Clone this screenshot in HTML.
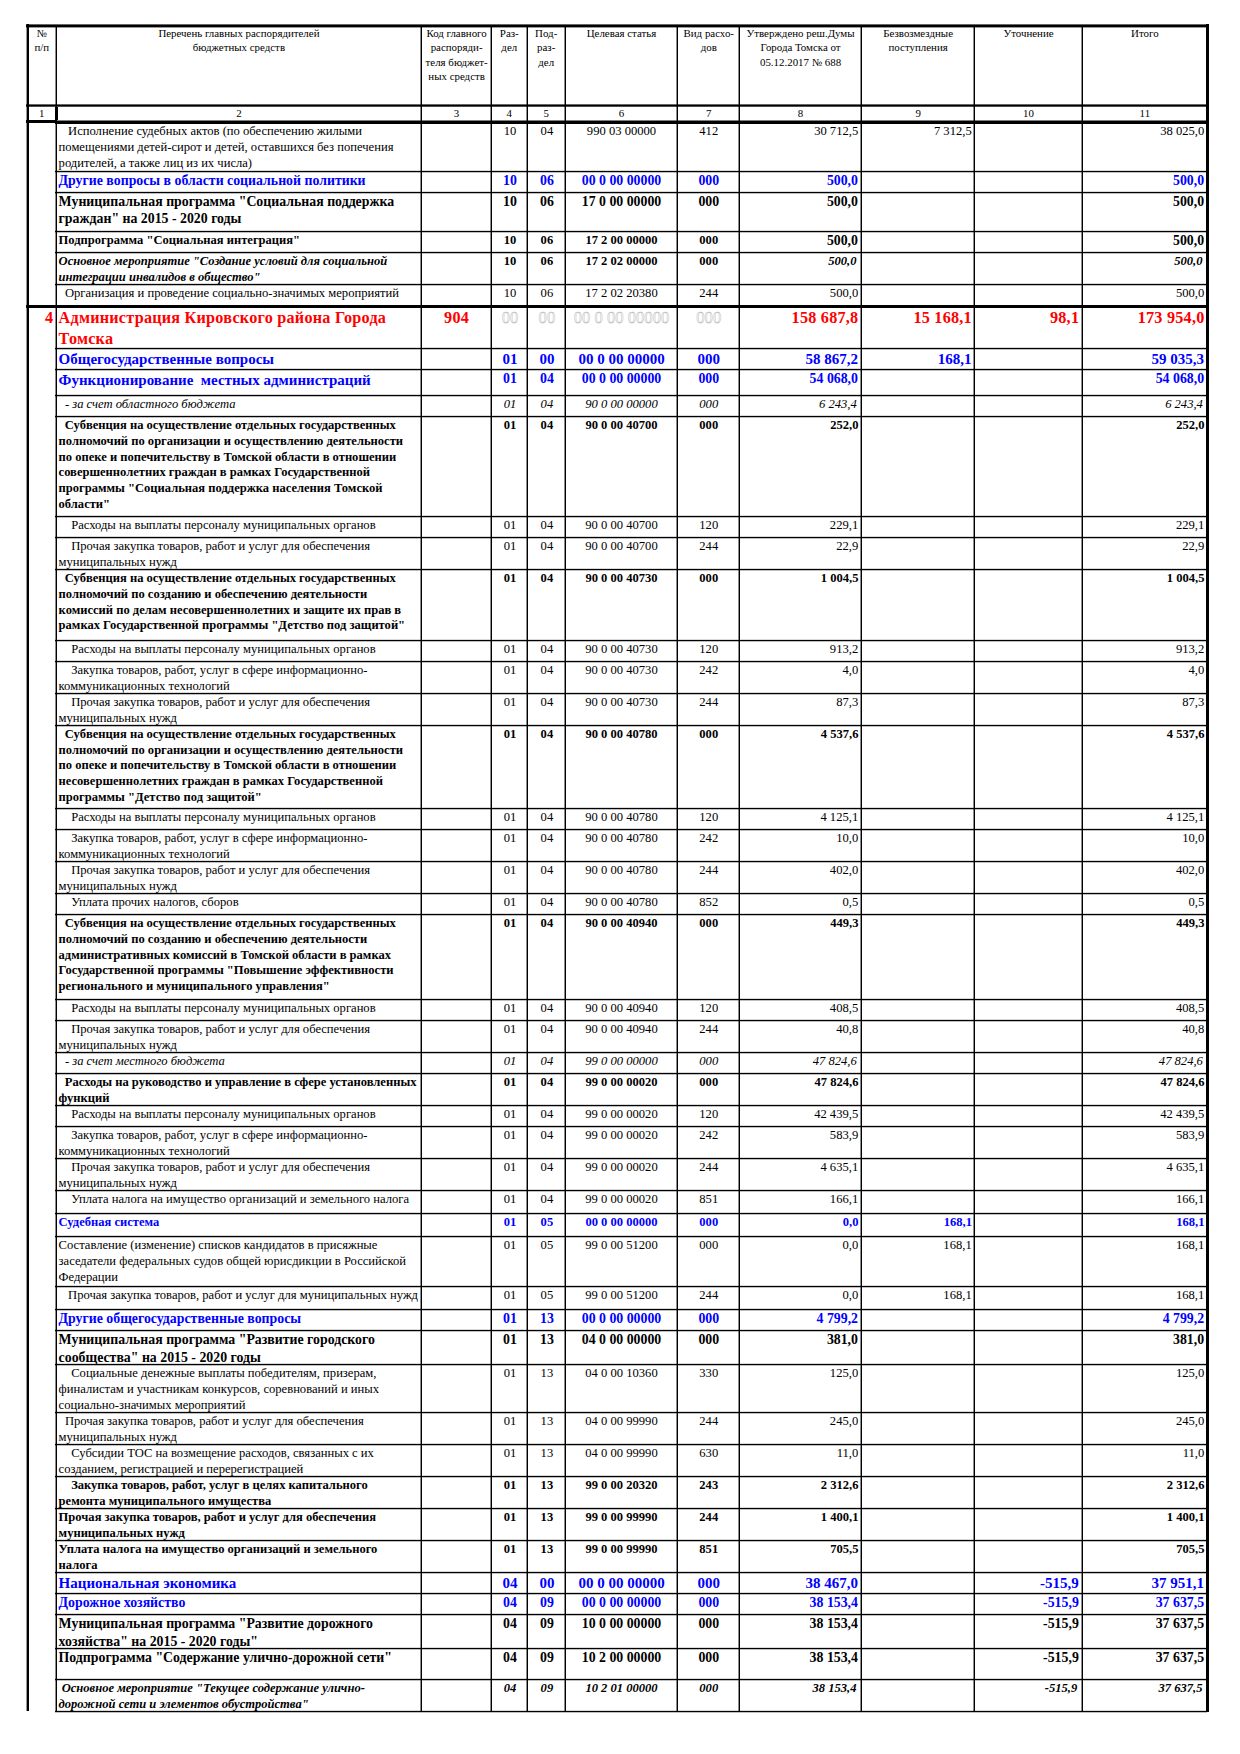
<!DOCTYPE html>
<html lang="ru"><head><meta charset="utf-8"><title>Ведомственная структура расходов</title>
<style>
html,body{margin:0;padding:0;background:#fff;}
body{width:1240px;height:1754px;position:relative;overflow:hidden;font-family:'Liberation Serif', 'Times New Roman', serif;}
.l{position:absolute;}
.t{position:absolute;white-space:pre;}
</style></head><body>
<div class="t" style="top:26.24px;font-size:10.9px;line-height:14.17px;font-weight:normal;font-style:normal;color:#000;left:-158.20px;width:400px;text-align:center;">№</div>
<div class="t" style="top:40.24px;font-size:10.9px;line-height:14.17px;font-weight:normal;font-style:normal;color:#000;left:-158.20px;width:400px;text-align:center;">п/п</div>
<div class="t" style="top:26.14px;font-size:10.9px;line-height:14.17px;font-weight:normal;font-style:normal;color:#000;left:38.95px;width:400px;text-align:center;">Перечень главных распорядителей</div>
<div class="t" style="top:39.84px;font-size:10.9px;line-height:14.17px;font-weight:normal;font-style:normal;color:#000;left:38.95px;width:400px;text-align:center;">бюджетных средств</div>
<div class="t" style="top:26.14px;font-size:10.9px;line-height:14.17px;font-weight:normal;font-style:normal;color:#000;left:256.60px;width:400px;text-align:center;">Код главного</div>
<div class="t" style="top:40.34px;font-size:10.9px;line-height:14.17px;font-weight:normal;font-style:normal;color:#000;left:256.60px;width:400px;text-align:center;">распоряди-</div>
<div class="t" style="top:54.84px;font-size:10.9px;line-height:14.17px;font-weight:normal;font-style:normal;color:#000;left:256.60px;width:400px;text-align:center;">теля бюджет-</div>
<div class="t" style="top:69.14px;font-size:10.9px;line-height:14.17px;font-weight:normal;font-style:normal;color:#000;left:256.60px;width:400px;text-align:center;">ных средств</div>
<div class="t" style="top:26.14px;font-size:10.9px;line-height:14.17px;font-weight:normal;font-style:normal;color:#000;left:309.25px;width:400px;text-align:center;">Раз-</div>
<div class="t" style="top:40.34px;font-size:10.9px;line-height:14.17px;font-weight:normal;font-style:normal;color:#000;left:309.25px;width:400px;text-align:center;">дел</div>
<div class="t" style="top:26.14px;font-size:10.9px;line-height:14.17px;font-weight:normal;font-style:normal;color:#000;left:346.20px;width:400px;text-align:center;">Под-</div>
<div class="t" style="top:40.34px;font-size:10.9px;line-height:14.17px;font-weight:normal;font-style:normal;color:#000;left:346.20px;width:400px;text-align:center;">раз-</div>
<div class="t" style="top:54.84px;font-size:10.9px;line-height:14.17px;font-weight:normal;font-style:normal;color:#000;left:346.20px;width:400px;text-align:center;">дел</div>
<div class="t" style="top:26.14px;font-size:10.9px;line-height:14.17px;font-weight:normal;font-style:normal;color:#000;left:421.50px;width:400px;text-align:center;">Целевая статья</div>
<div class="t" style="top:26.14px;font-size:10.9px;line-height:14.17px;font-weight:normal;font-style:normal;color:#000;left:508.75px;width:400px;text-align:center;">Вид расхо-</div>
<div class="t" style="top:40.34px;font-size:10.9px;line-height:14.17px;font-weight:normal;font-style:normal;color:#000;left:508.75px;width:400px;text-align:center;">дов</div>
<div class="t" style="top:26.14px;font-size:10.9px;line-height:14.17px;font-weight:normal;font-style:normal;color:#000;left:600.55px;width:400px;text-align:center;">Утверждено реш.Думы</div>
<div class="t" style="top:40.34px;font-size:10.9px;line-height:14.17px;font-weight:normal;font-style:normal;color:#000;left:600.55px;width:400px;text-align:center;">Города Томска от</div>
<div class="t" style="top:54.84px;font-size:10.9px;line-height:14.17px;font-weight:normal;font-style:normal;color:#000;left:600.55px;width:400px;text-align:center;">05.12.2017 № 688</div>
<div class="t" style="top:26.14px;font-size:10.9px;line-height:14.17px;font-weight:normal;font-style:normal;color:#000;left:718.15px;width:400px;text-align:center;">Безвозмездные</div>
<div class="t" style="top:40.34px;font-size:10.9px;line-height:14.17px;font-weight:normal;font-style:normal;color:#000;left:718.15px;width:400px;text-align:center;">поступления</div>
<div class="t" style="top:26.14px;font-size:10.9px;line-height:14.17px;font-weight:normal;font-style:normal;color:#000;left:828.55px;width:400px;text-align:center;">Уточнение</div>
<div class="t" style="top:26.14px;font-size:10.9px;line-height:14.17px;font-weight:normal;font-style:normal;color:#000;left:944.85px;width:400px;text-align:center;">Итого</div>
<div class="t" style="top:106.24px;font-size:10.9px;line-height:14.17px;font-weight:normal;font-style:normal;color:#000;left:-158.20px;width:400px;text-align:center;">1</div>
<div class="t" style="top:106.24px;font-size:10.9px;line-height:14.17px;font-weight:normal;font-style:normal;color:#000;left:38.95px;width:400px;text-align:center;">2</div>
<div class="t" style="top:106.24px;font-size:10.9px;line-height:14.17px;font-weight:normal;font-style:normal;color:#000;left:256.60px;width:400px;text-align:center;">3</div>
<div class="t" style="top:106.24px;font-size:10.9px;line-height:14.17px;font-weight:normal;font-style:normal;color:#000;left:309.25px;width:400px;text-align:center;">4</div>
<div class="t" style="top:106.24px;font-size:10.9px;line-height:14.17px;font-weight:normal;font-style:normal;color:#000;left:346.20px;width:400px;text-align:center;">5</div>
<div class="t" style="top:106.24px;font-size:10.9px;line-height:14.17px;font-weight:normal;font-style:normal;color:#000;left:421.50px;width:400px;text-align:center;">6</div>
<div class="t" style="top:106.24px;font-size:10.9px;line-height:14.17px;font-weight:normal;font-style:normal;color:#000;left:508.75px;width:400px;text-align:center;">7</div>
<div class="t" style="top:106.24px;font-size:10.9px;line-height:14.17px;font-weight:normal;font-style:normal;color:#000;left:600.55px;width:400px;text-align:center;">8</div>
<div class="t" style="top:106.24px;font-size:10.9px;line-height:14.17px;font-weight:normal;font-style:normal;color:#000;left:718.15px;width:400px;text-align:center;">9</div>
<div class="t" style="top:106.24px;font-size:10.9px;line-height:14.17px;font-weight:normal;font-style:normal;color:#000;left:828.55px;width:400px;text-align:center;">10</div>
<div class="t" style="top:106.24px;font-size:10.9px;line-height:14.17px;font-weight:normal;font-style:normal;color:#000;left:944.85px;width:400px;text-align:center;">11</div>
<div class="t" style="top:123.36px;font-size:12.6px;line-height:16.38px;font-weight:normal;font-style:normal;color:#000;left:58.60px;">   Исполнение судебных актов (по обеспечению жилыми</div>
<div class="t" style="top:139.36px;font-size:12.6px;line-height:16.38px;font-weight:normal;font-style:normal;color:#000;left:58.60px;">помещениями детей-сирот и детей, оставшихся без попечения</div>
<div class="t" style="top:155.36px;font-size:12.6px;line-height:16.38px;font-weight:normal;font-style:normal;color:#000;left:58.60px;">родителей, а также лиц из их числа)</div>
<div class="t" style="top:123.36px;font-size:12.6px;line-height:16.38px;font-weight:normal;font-style:normal;color:#000;left:309.95px;width:400px;text-align:center;">10</div>
<div class="t" style="top:123.36px;font-size:12.6px;line-height:16.38px;font-weight:normal;font-style:normal;color:#000;left:346.90px;width:400px;text-align:center;">04</div>
<div class="t" style="top:123.36px;font-size:12.6px;line-height:16.38px;font-weight:normal;font-style:normal;color:#000;left:421.50px;width:400px;text-align:center;">990 03 00000</div>
<div class="t" style="top:123.36px;font-size:12.6px;line-height:16.38px;font-weight:normal;font-style:normal;color:#000;left:508.75px;width:400px;text-align:center;">412</div>
<div class="t" style="top:123.36px;font-size:12.6px;line-height:16.38px;font-weight:normal;font-style:normal;color:#000;right:381.80px;">30 712,5</div>
<div class="t" style="top:123.36px;font-size:12.6px;line-height:16.38px;font-weight:normal;font-style:normal;color:#000;right:268.30px;">7 312,5</div>
<div class="t" style="top:123.36px;font-size:12.6px;line-height:16.38px;font-weight:normal;font-style:normal;color:#000;right:35.70px;">38 025,0</div>
<div class="t" style="top:172.14px;font-size:13.83px;line-height:17.98px;font-weight:bold;font-style:normal;color:#00f;left:58.60px;">Другие вопросы в области социальной политики</div>
<div class="t" style="top:172.14px;font-size:13.83px;line-height:17.98px;font-weight:bold;font-style:normal;color:#00f;left:309.95px;width:400px;text-align:center;">10</div>
<div class="t" style="top:172.14px;font-size:13.83px;line-height:17.98px;font-weight:bold;font-style:normal;color:#00f;left:346.90px;width:400px;text-align:center;">06</div>
<div class="t" style="top:172.14px;font-size:13.83px;line-height:17.98px;font-weight:bold;font-style:normal;color:#00f;left:421.50px;width:400px;text-align:center;">00 0 00 00000</div>
<div class="t" style="top:172.14px;font-size:13.83px;line-height:17.98px;font-weight:bold;font-style:normal;color:#00f;left:508.75px;width:400px;text-align:center;">000</div>
<div class="t" style="top:172.14px;font-size:13.83px;line-height:17.98px;font-weight:bold;font-style:normal;color:#00f;right:382.00px;">500,0</div>
<div class="t" style="top:172.14px;font-size:13.83px;line-height:17.98px;font-weight:bold;font-style:normal;color:#00f;right:35.90px;">500,0</div>
<div class="t" style="top:192.64px;font-size:13.83px;line-height:17.98px;font-weight:bold;font-style:normal;color:#000;left:58.60px;">Муниципальная программа &quot;Социальная поддержка</div>
<div class="t" style="top:210.44px;font-size:13.83px;line-height:17.98px;font-weight:bold;font-style:normal;color:#000;left:58.60px;">граждан&quot; на 2015 - 2020 годы</div>
<div class="t" style="top:192.64px;font-size:13.83px;line-height:17.98px;font-weight:bold;font-style:normal;color:#000;left:309.95px;width:400px;text-align:center;">10</div>
<div class="t" style="top:192.64px;font-size:13.83px;line-height:17.98px;font-weight:bold;font-style:normal;color:#000;left:346.90px;width:400px;text-align:center;">06</div>
<div class="t" style="top:192.64px;font-size:13.83px;line-height:17.98px;font-weight:bold;font-style:normal;color:#000;left:421.50px;width:400px;text-align:center;">17 0 00 00000</div>
<div class="t" style="top:192.64px;font-size:13.83px;line-height:17.98px;font-weight:bold;font-style:normal;color:#000;left:508.75px;width:400px;text-align:center;">000</div>
<div class="t" style="top:192.64px;font-size:13.83px;line-height:17.98px;font-weight:bold;font-style:normal;color:#000;right:382.00px;">500,0</div>
<div class="t" style="top:192.64px;font-size:13.83px;line-height:17.98px;font-weight:bold;font-style:normal;color:#000;right:35.90px;">500,0</div>
<div class="t" style="top:232.00px;font-size:12.56px;line-height:16.33px;font-weight:bold;font-style:normal;color:#000;left:58.60px;">Подпрограмма &quot;Социальная интеграция&quot;</div>
<div class="t" style="top:232.00px;font-size:12.56px;line-height:16.33px;font-weight:bold;font-style:normal;color:#000;left:309.95px;width:400px;text-align:center;">10</div>
<div class="t" style="top:232.00px;font-size:12.56px;line-height:16.33px;font-weight:bold;font-style:normal;color:#000;left:346.90px;width:400px;text-align:center;">06</div>
<div class="t" style="top:232.00px;font-size:12.56px;line-height:16.33px;font-weight:bold;font-style:normal;color:#000;left:421.50px;width:400px;text-align:center;">17 2 00 00000</div>
<div class="t" style="top:232.00px;font-size:12.56px;line-height:16.33px;font-weight:bold;font-style:normal;color:#000;left:508.75px;width:400px;text-align:center;">000</div>
<div class="t" style="top:232.04px;font-size:13.83px;line-height:17.98px;font-weight:bold;font-style:normal;color:#000;right:382.00px;">500,0</div>
<div class="t" style="top:232.04px;font-size:13.83px;line-height:17.98px;font-weight:bold;font-style:normal;color:#000;right:35.90px;">500,0</div>
<div class="t" style="top:252.70px;font-size:12.55px;line-height:16.32px;font-weight:bold;font-style:italic;color:#000;left:58.60px;">Основное мероприятие &quot;Создание условий для социальной</div>
<div class="t" style="top:268.50px;font-size:12.55px;line-height:16.32px;font-weight:bold;font-style:italic;color:#000;left:58.60px;">интеграции инвалидов в общество&quot;</div>
<div class="t" style="top:252.70px;font-size:12.56px;line-height:16.33px;font-weight:bold;font-style:normal;color:#000;left:309.95px;width:400px;text-align:center;">10</div>
<div class="t" style="top:252.70px;font-size:12.56px;line-height:16.33px;font-weight:bold;font-style:normal;color:#000;left:346.90px;width:400px;text-align:center;">06</div>
<div class="t" style="top:252.70px;font-size:12.56px;line-height:16.33px;font-weight:bold;font-style:normal;color:#000;left:421.50px;width:400px;text-align:center;">17 2 02 00000</div>
<div class="t" style="top:252.70px;font-size:12.56px;line-height:16.33px;font-weight:bold;font-style:normal;color:#000;left:508.75px;width:400px;text-align:center;">000</div>
<div class="t" style="top:252.70px;font-size:12.55px;line-height:16.32px;font-weight:bold;font-style:italic;color:#000;right:383.60px;">500,0</div>
<div class="t" style="top:252.70px;font-size:12.55px;line-height:16.32px;font-weight:bold;font-style:italic;color:#000;right:37.50px;">500,0</div>
<div class="t" style="top:284.86px;font-size:12.6px;line-height:16.38px;font-weight:normal;font-style:normal;color:#000;left:58.60px;">  Организация и проведение социально-значимых мероприятий</div>
<div class="t" style="top:284.86px;font-size:12.6px;line-height:16.38px;font-weight:normal;font-style:normal;color:#000;left:309.95px;width:400px;text-align:center;">10</div>
<div class="t" style="top:284.86px;font-size:12.6px;line-height:16.38px;font-weight:normal;font-style:normal;color:#000;left:346.90px;width:400px;text-align:center;">06</div>
<div class="t" style="top:284.86px;font-size:12.6px;line-height:16.38px;font-weight:normal;font-style:normal;color:#000;left:421.50px;width:400px;text-align:center;">17 2 02 20380</div>
<div class="t" style="top:284.86px;font-size:12.6px;line-height:16.38px;font-weight:normal;font-style:normal;color:#000;left:508.75px;width:400px;text-align:center;">244</div>
<div class="t" style="top:284.86px;font-size:12.6px;line-height:16.38px;font-weight:normal;font-style:normal;color:#000;right:381.80px;">500,0</div>
<div class="t" style="top:284.86px;font-size:12.6px;line-height:16.38px;font-weight:normal;font-style:normal;color:#000;right:35.70px;">500,0</div>
<div class="t" style="top:308.00px;font-size:16.2px;line-height:21.06px;font-weight:bold;font-style:normal;color:#f00;letter-spacing:0.23px;left:58.60px;">Администрация Кировского района Города</div>
<div class="t" style="top:328.90px;font-size:16.2px;line-height:21.06px;font-weight:bold;font-style:normal;color:#f00;letter-spacing:0.23px;left:58.60px;">Томска</div>
<div class="t" style="top:308.00px;font-size:16.2px;line-height:21.06px;font-weight:bold;font-style:normal;color:#f00;letter-spacing:0.23px;left:256.60px;width:400px;text-align:center;">904</div>
<div class="t" style="top:306.57px;font-size:16.64px;line-height:21.63px;font-weight:normal;font-style:normal;color:transparent;-webkit-text-stroke:0.4px #a8a8a8;left:309.95px;width:400px;text-align:center;">00</div>
<div class="t" style="top:306.57px;font-size:16.64px;line-height:21.63px;font-weight:normal;font-style:normal;color:transparent;-webkit-text-stroke:0.4px #a8a8a8;left:346.90px;width:400px;text-align:center;">00</div>
<div class="t" style="top:306.57px;font-size:16.64px;line-height:21.63px;font-weight:normal;font-style:normal;color:transparent;-webkit-text-stroke:0.4px #a8a8a8;left:421.50px;width:400px;text-align:center;">00 0 00 00000</div>
<div class="t" style="top:306.57px;font-size:16.64px;line-height:21.63px;font-weight:normal;font-style:normal;color:transparent;-webkit-text-stroke:0.4px #a8a8a8;left:508.75px;width:400px;text-align:center;">000</div>
<div class="t" style="top:308.00px;font-size:16.2px;line-height:21.06px;font-weight:bold;font-style:normal;color:#f00;letter-spacing:0.23px;right:381.60px;">158 687,8</div>
<div class="t" style="top:308.00px;font-size:16.2px;line-height:21.06px;font-weight:bold;font-style:normal;color:#f00;letter-spacing:0.23px;right:268.10px;">15 168,1</div>
<div class="t" style="top:308.00px;font-size:16.2px;line-height:21.06px;font-weight:bold;font-style:normal;color:#f00;letter-spacing:0.23px;right:160.80px;">98,1</div>
<div class="t" style="top:308.00px;font-size:16.2px;line-height:21.06px;font-weight:bold;font-style:normal;color:#f00;letter-spacing:0.23px;right:35.50px;">173 954,0</div>
<div class="t" style="top:349.69px;font-size:15.0px;line-height:19.5px;font-weight:bold;font-style:normal;color:#00f;left:58.60px;">Общегосударственные вопросы</div>
<div class="t" style="top:349.69px;font-size:15.0px;line-height:19.5px;font-weight:bold;font-style:normal;color:#00f;left:309.95px;width:400px;text-align:center;">01</div>
<div class="t" style="top:349.69px;font-size:15.0px;line-height:19.5px;font-weight:bold;font-style:normal;color:#00f;left:346.90px;width:400px;text-align:center;">00</div>
<div class="t" style="top:349.69px;font-size:15.0px;line-height:19.5px;font-weight:bold;font-style:normal;color:#00f;left:421.50px;width:400px;text-align:center;">00 0 00 00000</div>
<div class="t" style="top:349.69px;font-size:15.0px;line-height:19.5px;font-weight:bold;font-style:normal;color:#00f;left:508.75px;width:400px;text-align:center;">000</div>
<div class="t" style="top:349.69px;font-size:15.0px;line-height:19.5px;font-weight:bold;font-style:normal;color:#00f;right:382.00px;">58 867,2</div>
<div class="t" style="top:349.69px;font-size:15.0px;line-height:19.5px;font-weight:bold;font-style:normal;color:#00f;right:268.50px;">168,1</div>
<div class="t" style="top:349.69px;font-size:15.0px;line-height:19.5px;font-weight:bold;font-style:normal;color:#00f;right:35.90px;">59 035,3</div>
<div class="t" style="top:370.69px;font-size:15.0px;line-height:19.5px;font-weight:bold;font-style:normal;color:#00f;left:58.60px;">Функционирование  местных администраций</div>
<div class="t" style="top:370.04px;font-size:13.83px;line-height:17.98px;font-weight:bold;font-style:normal;color:#00f;left:309.95px;width:400px;text-align:center;">01</div>
<div class="t" style="top:370.04px;font-size:13.83px;line-height:17.98px;font-weight:bold;font-style:normal;color:#00f;left:346.90px;width:400px;text-align:center;">04</div>
<div class="t" style="top:370.04px;font-size:13.83px;line-height:17.98px;font-weight:bold;font-style:normal;color:#00f;left:421.50px;width:400px;text-align:center;">00 0 00 00000</div>
<div class="t" style="top:370.04px;font-size:13.83px;line-height:17.98px;font-weight:bold;font-style:normal;color:#00f;left:508.75px;width:400px;text-align:center;">000</div>
<div class="t" style="top:370.04px;font-size:13.83px;line-height:17.98px;font-weight:bold;font-style:normal;color:#00f;right:382.00px;">54 068,0</div>
<div class="t" style="top:370.04px;font-size:13.83px;line-height:17.98px;font-weight:bold;font-style:normal;color:#00f;right:35.90px;">54 068,0</div>
<div class="t" style="top:395.86px;font-size:12.6px;line-height:16.38px;font-weight:normal;font-style:italic;color:#000;left:58.60px;">  - за счет областного бюджета</div>
<div class="t" style="top:395.86px;font-size:12.6px;line-height:16.38px;font-weight:normal;font-style:italic;color:#000;left:309.95px;width:400px;text-align:center;">01</div>
<div class="t" style="top:395.86px;font-size:12.6px;line-height:16.38px;font-weight:normal;font-style:italic;color:#000;left:346.90px;width:400px;text-align:center;">04</div>
<div class="t" style="top:395.86px;font-size:12.6px;line-height:16.38px;font-weight:normal;font-style:italic;color:#000;left:421.50px;width:400px;text-align:center;">90 0 00 00000</div>
<div class="t" style="top:395.86px;font-size:12.6px;line-height:16.38px;font-weight:normal;font-style:italic;color:#000;left:508.75px;width:400px;text-align:center;">000</div>
<div class="t" style="top:395.86px;font-size:12.6px;line-height:16.38px;font-weight:normal;font-style:italic;color:#000;right:383.20px;">6 243,4</div>
<div class="t" style="top:395.86px;font-size:12.6px;line-height:16.38px;font-weight:normal;font-style:italic;color:#000;right:37.10px;">6 243,4</div>
<div class="t" style="top:416.90px;font-size:12.56px;line-height:16.33px;font-weight:bold;font-style:normal;color:#000;left:58.60px;">  Субвенция на осуществление отдельных государственных</div>
<div class="t" style="top:432.70px;font-size:12.56px;line-height:16.33px;font-weight:bold;font-style:normal;color:#000;left:58.60px;">полномочий по организации и осуществлению деятельности</div>
<div class="t" style="top:448.50px;font-size:12.56px;line-height:16.33px;font-weight:bold;font-style:normal;color:#000;left:58.60px;">по опеке и попечительству в Томской области в отношении</div>
<div class="t" style="top:464.30px;font-size:12.56px;line-height:16.33px;font-weight:bold;font-style:normal;color:#000;left:58.60px;">совершеннолетних граждан в рамках Государственной</div>
<div class="t" style="top:480.10px;font-size:12.56px;line-height:16.33px;font-weight:bold;font-style:normal;color:#000;left:58.60px;">программы &quot;Социальная поддержка населения Томской</div>
<div class="t" style="top:495.90px;font-size:12.56px;line-height:16.33px;font-weight:bold;font-style:normal;color:#000;left:58.60px;">области&quot;</div>
<div class="t" style="top:416.90px;font-size:12.56px;line-height:16.33px;font-weight:bold;font-style:normal;color:#000;left:309.95px;width:400px;text-align:center;">01</div>
<div class="t" style="top:416.90px;font-size:12.56px;line-height:16.33px;font-weight:bold;font-style:normal;color:#000;left:346.90px;width:400px;text-align:center;">04</div>
<div class="t" style="top:416.90px;font-size:12.56px;line-height:16.33px;font-weight:bold;font-style:normal;color:#000;left:421.50px;width:400px;text-align:center;">90 0 00 40700</div>
<div class="t" style="top:416.90px;font-size:12.56px;line-height:16.33px;font-weight:bold;font-style:normal;color:#000;left:508.75px;width:400px;text-align:center;">000</div>
<div class="t" style="top:416.90px;font-size:12.56px;line-height:16.33px;font-weight:bold;font-style:normal;color:#000;right:381.60px;">252,0</div>
<div class="t" style="top:416.90px;font-size:12.56px;line-height:16.33px;font-weight:bold;font-style:normal;color:#000;right:35.50px;">252,0</div>
<div class="t" style="top:517.06px;font-size:12.6px;line-height:16.38px;font-weight:normal;font-style:normal;color:#000;left:58.60px;">    Расходы на выплаты персоналу муниципальных органов</div>
<div class="t" style="top:517.06px;font-size:12.6px;line-height:16.38px;font-weight:normal;font-style:normal;color:#000;left:309.95px;width:400px;text-align:center;">01</div>
<div class="t" style="top:517.06px;font-size:12.6px;line-height:16.38px;font-weight:normal;font-style:normal;color:#000;left:346.90px;width:400px;text-align:center;">04</div>
<div class="t" style="top:517.06px;font-size:12.6px;line-height:16.38px;font-weight:normal;font-style:normal;color:#000;left:421.50px;width:400px;text-align:center;">90 0 00 40700</div>
<div class="t" style="top:517.06px;font-size:12.6px;line-height:16.38px;font-weight:normal;font-style:normal;color:#000;left:508.75px;width:400px;text-align:center;">120</div>
<div class="t" style="top:517.06px;font-size:12.6px;line-height:16.38px;font-weight:normal;font-style:normal;color:#000;right:381.80px;">229,1</div>
<div class="t" style="top:517.06px;font-size:12.6px;line-height:16.38px;font-weight:normal;font-style:normal;color:#000;right:35.70px;">229,1</div>
<div class="t" style="top:538.16px;font-size:12.6px;line-height:16.38px;font-weight:normal;font-style:normal;color:#000;left:58.60px;">    Прочая закупка товаров, работ и услуг для обеспечения</div>
<div class="t" style="top:554.16px;font-size:12.6px;line-height:16.38px;font-weight:normal;font-style:normal;color:#000;left:58.60px;">муниципальных нужд</div>
<div class="t" style="top:538.16px;font-size:12.6px;line-height:16.38px;font-weight:normal;font-style:normal;color:#000;left:309.95px;width:400px;text-align:center;">01</div>
<div class="t" style="top:538.16px;font-size:12.6px;line-height:16.38px;font-weight:normal;font-style:normal;color:#000;left:346.90px;width:400px;text-align:center;">04</div>
<div class="t" style="top:538.16px;font-size:12.6px;line-height:16.38px;font-weight:normal;font-style:normal;color:#000;left:421.50px;width:400px;text-align:center;">90 0 00 40700</div>
<div class="t" style="top:538.16px;font-size:12.6px;line-height:16.38px;font-weight:normal;font-style:normal;color:#000;left:508.75px;width:400px;text-align:center;">244</div>
<div class="t" style="top:538.16px;font-size:12.6px;line-height:16.38px;font-weight:normal;font-style:normal;color:#000;right:381.80px;">22,9</div>
<div class="t" style="top:538.16px;font-size:12.6px;line-height:16.38px;font-weight:normal;font-style:normal;color:#000;right:35.70px;">22,9</div>
<div class="t" style="top:570.00px;font-size:12.56px;line-height:16.33px;font-weight:bold;font-style:normal;color:#000;left:58.60px;">  Субвенция на осуществление отдельных государственных</div>
<div class="t" style="top:585.80px;font-size:12.56px;line-height:16.33px;font-weight:bold;font-style:normal;color:#000;left:58.60px;">полномочий по созданию и обеспечению деятельности</div>
<div class="t" style="top:601.60px;font-size:12.56px;line-height:16.33px;font-weight:bold;font-style:normal;color:#000;left:58.60px;">комиссий по делам несовершеннолетних и защите их прав в</div>
<div class="t" style="top:617.40px;font-size:12.56px;line-height:16.33px;font-weight:bold;font-style:normal;color:#000;left:58.60px;">рамках Государственной программы &quot;Детство под защитой&quot;</div>
<div class="t" style="top:570.00px;font-size:12.56px;line-height:16.33px;font-weight:bold;font-style:normal;color:#000;left:309.95px;width:400px;text-align:center;">01</div>
<div class="t" style="top:570.00px;font-size:12.56px;line-height:16.33px;font-weight:bold;font-style:normal;color:#000;left:346.90px;width:400px;text-align:center;">04</div>
<div class="t" style="top:570.00px;font-size:12.56px;line-height:16.33px;font-weight:bold;font-style:normal;color:#000;left:421.50px;width:400px;text-align:center;">90 0 00 40730</div>
<div class="t" style="top:570.00px;font-size:12.56px;line-height:16.33px;font-weight:bold;font-style:normal;color:#000;left:508.75px;width:400px;text-align:center;">000</div>
<div class="t" style="top:570.00px;font-size:12.56px;line-height:16.33px;font-weight:bold;font-style:normal;color:#000;right:381.60px;">1 004,5</div>
<div class="t" style="top:570.00px;font-size:12.56px;line-height:16.33px;font-weight:bold;font-style:normal;color:#000;right:35.50px;">1 004,5</div>
<div class="t" style="top:641.06px;font-size:12.6px;line-height:16.38px;font-weight:normal;font-style:normal;color:#000;left:58.60px;">    Расходы на выплаты персоналу муниципальных органов</div>
<div class="t" style="top:641.06px;font-size:12.6px;line-height:16.38px;font-weight:normal;font-style:normal;color:#000;left:309.95px;width:400px;text-align:center;">01</div>
<div class="t" style="top:641.06px;font-size:12.6px;line-height:16.38px;font-weight:normal;font-style:normal;color:#000;left:346.90px;width:400px;text-align:center;">04</div>
<div class="t" style="top:641.06px;font-size:12.6px;line-height:16.38px;font-weight:normal;font-style:normal;color:#000;left:421.50px;width:400px;text-align:center;">90 0 00 40730</div>
<div class="t" style="top:641.06px;font-size:12.6px;line-height:16.38px;font-weight:normal;font-style:normal;color:#000;left:508.75px;width:400px;text-align:center;">120</div>
<div class="t" style="top:641.06px;font-size:12.6px;line-height:16.38px;font-weight:normal;font-style:normal;color:#000;right:381.80px;">913,2</div>
<div class="t" style="top:641.06px;font-size:12.6px;line-height:16.38px;font-weight:normal;font-style:normal;color:#000;right:35.70px;">913,2</div>
<div class="t" style="top:662.06px;font-size:12.6px;line-height:16.38px;font-weight:normal;font-style:normal;color:#000;left:58.60px;">    Закупка товаров, работ, услуг в сфере информационно-</div>
<div class="t" style="top:678.06px;font-size:12.6px;line-height:16.38px;font-weight:normal;font-style:normal;color:#000;left:58.60px;">коммуникационных технологий</div>
<div class="t" style="top:662.06px;font-size:12.6px;line-height:16.38px;font-weight:normal;font-style:normal;color:#000;left:309.95px;width:400px;text-align:center;">01</div>
<div class="t" style="top:662.06px;font-size:12.6px;line-height:16.38px;font-weight:normal;font-style:normal;color:#000;left:346.90px;width:400px;text-align:center;">04</div>
<div class="t" style="top:662.06px;font-size:12.6px;line-height:16.38px;font-weight:normal;font-style:normal;color:#000;left:421.50px;width:400px;text-align:center;">90 0 00 40730</div>
<div class="t" style="top:662.06px;font-size:12.6px;line-height:16.38px;font-weight:normal;font-style:normal;color:#000;left:508.75px;width:400px;text-align:center;">242</div>
<div class="t" style="top:662.06px;font-size:12.6px;line-height:16.38px;font-weight:normal;font-style:normal;color:#000;right:381.80px;">4,0</div>
<div class="t" style="top:662.06px;font-size:12.6px;line-height:16.38px;font-weight:normal;font-style:normal;color:#000;right:35.70px;">4,0</div>
<div class="t" style="top:693.86px;font-size:12.6px;line-height:16.38px;font-weight:normal;font-style:normal;color:#000;left:58.60px;">    Прочая закупка товаров, работ и услуг для обеспечения</div>
<div class="t" style="top:709.86px;font-size:12.6px;line-height:16.38px;font-weight:normal;font-style:normal;color:#000;left:58.60px;">муниципальных нужд</div>
<div class="t" style="top:693.86px;font-size:12.6px;line-height:16.38px;font-weight:normal;font-style:normal;color:#000;left:309.95px;width:400px;text-align:center;">01</div>
<div class="t" style="top:693.86px;font-size:12.6px;line-height:16.38px;font-weight:normal;font-style:normal;color:#000;left:346.90px;width:400px;text-align:center;">04</div>
<div class="t" style="top:693.86px;font-size:12.6px;line-height:16.38px;font-weight:normal;font-style:normal;color:#000;left:421.50px;width:400px;text-align:center;">90 0 00 40730</div>
<div class="t" style="top:693.86px;font-size:12.6px;line-height:16.38px;font-weight:normal;font-style:normal;color:#000;left:508.75px;width:400px;text-align:center;">244</div>
<div class="t" style="top:693.86px;font-size:12.6px;line-height:16.38px;font-weight:normal;font-style:normal;color:#000;right:381.80px;">87,3</div>
<div class="t" style="top:693.86px;font-size:12.6px;line-height:16.38px;font-weight:normal;font-style:normal;color:#000;right:35.70px;">87,3</div>
<div class="t" style="top:725.80px;font-size:12.56px;line-height:16.33px;font-weight:bold;font-style:normal;color:#000;left:58.60px;">  Субвенция на осуществление отдельных государственных</div>
<div class="t" style="top:741.60px;font-size:12.56px;line-height:16.33px;font-weight:bold;font-style:normal;color:#000;left:58.60px;">полномочий по организации и осуществлению деятельности</div>
<div class="t" style="top:757.40px;font-size:12.56px;line-height:16.33px;font-weight:bold;font-style:normal;color:#000;left:58.60px;">по опеке и попечительству в Томской области в отношении</div>
<div class="t" style="top:773.20px;font-size:12.56px;line-height:16.33px;font-weight:bold;font-style:normal;color:#000;left:58.60px;">несовершеннолетних граждан в рамках Государственной</div>
<div class="t" style="top:789.00px;font-size:12.56px;line-height:16.33px;font-weight:bold;font-style:normal;color:#000;left:58.60px;">программы &quot;Детство под защитой&quot;</div>
<div class="t" style="top:725.80px;font-size:12.56px;line-height:16.33px;font-weight:bold;font-style:normal;color:#000;left:309.95px;width:400px;text-align:center;">01</div>
<div class="t" style="top:725.80px;font-size:12.56px;line-height:16.33px;font-weight:bold;font-style:normal;color:#000;left:346.90px;width:400px;text-align:center;">04</div>
<div class="t" style="top:725.80px;font-size:12.56px;line-height:16.33px;font-weight:bold;font-style:normal;color:#000;left:421.50px;width:400px;text-align:center;">90 0 00 40780</div>
<div class="t" style="top:725.80px;font-size:12.56px;line-height:16.33px;font-weight:bold;font-style:normal;color:#000;left:508.75px;width:400px;text-align:center;">000</div>
<div class="t" style="top:725.80px;font-size:12.56px;line-height:16.33px;font-weight:bold;font-style:normal;color:#000;right:381.60px;">4 537,6</div>
<div class="t" style="top:725.80px;font-size:12.56px;line-height:16.33px;font-weight:bold;font-style:normal;color:#000;right:35.50px;">4 537,6</div>
<div class="t" style="top:809.06px;font-size:12.6px;line-height:16.38px;font-weight:normal;font-style:normal;color:#000;left:58.60px;">    Расходы на выплаты персоналу муниципальных органов</div>
<div class="t" style="top:809.06px;font-size:12.6px;line-height:16.38px;font-weight:normal;font-style:normal;color:#000;left:309.95px;width:400px;text-align:center;">01</div>
<div class="t" style="top:809.06px;font-size:12.6px;line-height:16.38px;font-weight:normal;font-style:normal;color:#000;left:346.90px;width:400px;text-align:center;">04</div>
<div class="t" style="top:809.06px;font-size:12.6px;line-height:16.38px;font-weight:normal;font-style:normal;color:#000;left:421.50px;width:400px;text-align:center;">90 0 00 40780</div>
<div class="t" style="top:809.06px;font-size:12.6px;line-height:16.38px;font-weight:normal;font-style:normal;color:#000;left:508.75px;width:400px;text-align:center;">120</div>
<div class="t" style="top:809.06px;font-size:12.6px;line-height:16.38px;font-weight:normal;font-style:normal;color:#000;right:381.80px;">4 125,1</div>
<div class="t" style="top:809.06px;font-size:12.6px;line-height:16.38px;font-weight:normal;font-style:normal;color:#000;right:35.70px;">4 125,1</div>
<div class="t" style="top:829.96px;font-size:12.6px;line-height:16.38px;font-weight:normal;font-style:normal;color:#000;left:58.60px;">    Закупка товаров, работ, услуг в сфере информационно-</div>
<div class="t" style="top:845.96px;font-size:12.6px;line-height:16.38px;font-weight:normal;font-style:normal;color:#000;left:58.60px;">коммуникационных технологий</div>
<div class="t" style="top:829.96px;font-size:12.6px;line-height:16.38px;font-weight:normal;font-style:normal;color:#000;left:309.95px;width:400px;text-align:center;">01</div>
<div class="t" style="top:829.96px;font-size:12.6px;line-height:16.38px;font-weight:normal;font-style:normal;color:#000;left:346.90px;width:400px;text-align:center;">04</div>
<div class="t" style="top:829.96px;font-size:12.6px;line-height:16.38px;font-weight:normal;font-style:normal;color:#000;left:421.50px;width:400px;text-align:center;">90 0 00 40780</div>
<div class="t" style="top:829.96px;font-size:12.6px;line-height:16.38px;font-weight:normal;font-style:normal;color:#000;left:508.75px;width:400px;text-align:center;">242</div>
<div class="t" style="top:829.96px;font-size:12.6px;line-height:16.38px;font-weight:normal;font-style:normal;color:#000;right:381.80px;">10,0</div>
<div class="t" style="top:829.96px;font-size:12.6px;line-height:16.38px;font-weight:normal;font-style:normal;color:#000;right:35.70px;">10,0</div>
<div class="t" style="top:861.56px;font-size:12.6px;line-height:16.38px;font-weight:normal;font-style:normal;color:#000;left:58.60px;">    Прочая закупка товаров, работ и услуг для обеспечения</div>
<div class="t" style="top:877.56px;font-size:12.6px;line-height:16.38px;font-weight:normal;font-style:normal;color:#000;left:58.60px;">муниципальных нужд</div>
<div class="t" style="top:861.56px;font-size:12.6px;line-height:16.38px;font-weight:normal;font-style:normal;color:#000;left:309.95px;width:400px;text-align:center;">01</div>
<div class="t" style="top:861.56px;font-size:12.6px;line-height:16.38px;font-weight:normal;font-style:normal;color:#000;left:346.90px;width:400px;text-align:center;">04</div>
<div class="t" style="top:861.56px;font-size:12.6px;line-height:16.38px;font-weight:normal;font-style:normal;color:#000;left:421.50px;width:400px;text-align:center;">90 0 00 40780</div>
<div class="t" style="top:861.56px;font-size:12.6px;line-height:16.38px;font-weight:normal;font-style:normal;color:#000;left:508.75px;width:400px;text-align:center;">244</div>
<div class="t" style="top:861.56px;font-size:12.6px;line-height:16.38px;font-weight:normal;font-style:normal;color:#000;right:381.80px;">402,0</div>
<div class="t" style="top:861.56px;font-size:12.6px;line-height:16.38px;font-weight:normal;font-style:normal;color:#000;right:35.70px;">402,0</div>
<div class="t" style="top:894.06px;font-size:12.6px;line-height:16.38px;font-weight:normal;font-style:normal;color:#000;left:58.60px;">    Уплата прочих налогов, сборов</div>
<div class="t" style="top:894.06px;font-size:12.6px;line-height:16.38px;font-weight:normal;font-style:normal;color:#000;left:309.95px;width:400px;text-align:center;">01</div>
<div class="t" style="top:894.06px;font-size:12.6px;line-height:16.38px;font-weight:normal;font-style:normal;color:#000;left:346.90px;width:400px;text-align:center;">04</div>
<div class="t" style="top:894.06px;font-size:12.6px;line-height:16.38px;font-weight:normal;font-style:normal;color:#000;left:421.50px;width:400px;text-align:center;">90 0 00 40780</div>
<div class="t" style="top:894.06px;font-size:12.6px;line-height:16.38px;font-weight:normal;font-style:normal;color:#000;left:508.75px;width:400px;text-align:center;">852</div>
<div class="t" style="top:894.06px;font-size:12.6px;line-height:16.38px;font-weight:normal;font-style:normal;color:#000;right:381.80px;">0,5</div>
<div class="t" style="top:894.06px;font-size:12.6px;line-height:16.38px;font-weight:normal;font-style:normal;color:#000;right:35.70px;">0,5</div>
<div class="t" style="top:914.90px;font-size:12.56px;line-height:16.33px;font-weight:bold;font-style:normal;color:#000;left:58.60px;">  Субвенция на осуществление отдельных государственных</div>
<div class="t" style="top:930.70px;font-size:12.56px;line-height:16.33px;font-weight:bold;font-style:normal;color:#000;left:58.60px;">полномочий по созданию и обеспечению деятельности</div>
<div class="t" style="top:946.50px;font-size:12.56px;line-height:16.33px;font-weight:bold;font-style:normal;color:#000;left:58.60px;">административных комиссий в Томской области в рамках</div>
<div class="t" style="top:962.30px;font-size:12.56px;line-height:16.33px;font-weight:bold;font-style:normal;color:#000;left:58.60px;">Государственной программы &quot;Повышение эффективности</div>
<div class="t" style="top:978.10px;font-size:12.56px;line-height:16.33px;font-weight:bold;font-style:normal;color:#000;left:58.60px;">регионального и муниципального управления&quot;</div>
<div class="t" style="top:914.90px;font-size:12.56px;line-height:16.33px;font-weight:bold;font-style:normal;color:#000;left:309.95px;width:400px;text-align:center;">01</div>
<div class="t" style="top:914.90px;font-size:12.56px;line-height:16.33px;font-weight:bold;font-style:normal;color:#000;left:346.90px;width:400px;text-align:center;">04</div>
<div class="t" style="top:914.90px;font-size:12.56px;line-height:16.33px;font-weight:bold;font-style:normal;color:#000;left:421.50px;width:400px;text-align:center;">90 0 00 40940</div>
<div class="t" style="top:914.90px;font-size:12.56px;line-height:16.33px;font-weight:bold;font-style:normal;color:#000;left:508.75px;width:400px;text-align:center;">000</div>
<div class="t" style="top:914.90px;font-size:12.56px;line-height:16.33px;font-weight:bold;font-style:normal;color:#000;right:381.60px;">449,3</div>
<div class="t" style="top:914.90px;font-size:12.56px;line-height:16.33px;font-weight:bold;font-style:normal;color:#000;right:35.50px;">449,3</div>
<div class="t" style="top:1000.16px;font-size:12.6px;line-height:16.38px;font-weight:normal;font-style:normal;color:#000;left:58.60px;">    Расходы на выплаты персоналу муниципальных органов</div>
<div class="t" style="top:1000.16px;font-size:12.6px;line-height:16.38px;font-weight:normal;font-style:normal;color:#000;left:309.95px;width:400px;text-align:center;">01</div>
<div class="t" style="top:1000.16px;font-size:12.6px;line-height:16.38px;font-weight:normal;font-style:normal;color:#000;left:346.90px;width:400px;text-align:center;">04</div>
<div class="t" style="top:1000.16px;font-size:12.6px;line-height:16.38px;font-weight:normal;font-style:normal;color:#000;left:421.50px;width:400px;text-align:center;">90 0 00 40940</div>
<div class="t" style="top:1000.16px;font-size:12.6px;line-height:16.38px;font-weight:normal;font-style:normal;color:#000;left:508.75px;width:400px;text-align:center;">120</div>
<div class="t" style="top:1000.16px;font-size:12.6px;line-height:16.38px;font-weight:normal;font-style:normal;color:#000;right:381.80px;">408,5</div>
<div class="t" style="top:1000.16px;font-size:12.6px;line-height:16.38px;font-weight:normal;font-style:normal;color:#000;right:35.70px;">408,5</div>
<div class="t" style="top:1020.86px;font-size:12.6px;line-height:16.38px;font-weight:normal;font-style:normal;color:#000;left:58.60px;">    Прочая закупка товаров, работ и услуг для обеспечения</div>
<div class="t" style="top:1036.86px;font-size:12.6px;line-height:16.38px;font-weight:normal;font-style:normal;color:#000;left:58.60px;">муниципальных нужд</div>
<div class="t" style="top:1020.86px;font-size:12.6px;line-height:16.38px;font-weight:normal;font-style:normal;color:#000;left:309.95px;width:400px;text-align:center;">01</div>
<div class="t" style="top:1020.86px;font-size:12.6px;line-height:16.38px;font-weight:normal;font-style:normal;color:#000;left:346.90px;width:400px;text-align:center;">04</div>
<div class="t" style="top:1020.86px;font-size:12.6px;line-height:16.38px;font-weight:normal;font-style:normal;color:#000;left:421.50px;width:400px;text-align:center;">90 0 00 40940</div>
<div class="t" style="top:1020.86px;font-size:12.6px;line-height:16.38px;font-weight:normal;font-style:normal;color:#000;left:508.75px;width:400px;text-align:center;">244</div>
<div class="t" style="top:1020.86px;font-size:12.6px;line-height:16.38px;font-weight:normal;font-style:normal;color:#000;right:381.80px;">40,8</div>
<div class="t" style="top:1020.86px;font-size:12.6px;line-height:16.38px;font-weight:normal;font-style:normal;color:#000;right:35.70px;">40,8</div>
<div class="t" style="top:1052.66px;font-size:12.6px;line-height:16.38px;font-weight:normal;font-style:italic;color:#000;left:58.60px;">  - за счет местного бюджета</div>
<div class="t" style="top:1052.66px;font-size:12.6px;line-height:16.38px;font-weight:normal;font-style:italic;color:#000;left:309.95px;width:400px;text-align:center;">01</div>
<div class="t" style="top:1052.66px;font-size:12.6px;line-height:16.38px;font-weight:normal;font-style:italic;color:#000;left:346.90px;width:400px;text-align:center;">04</div>
<div class="t" style="top:1052.66px;font-size:12.6px;line-height:16.38px;font-weight:normal;font-style:italic;color:#000;left:421.50px;width:400px;text-align:center;">99 0 00 00000</div>
<div class="t" style="top:1052.66px;font-size:12.6px;line-height:16.38px;font-weight:normal;font-style:italic;color:#000;left:508.75px;width:400px;text-align:center;">000</div>
<div class="t" style="top:1052.66px;font-size:12.6px;line-height:16.38px;font-weight:normal;font-style:italic;color:#000;right:383.20px;">47 824,6</div>
<div class="t" style="top:1052.66px;font-size:12.6px;line-height:16.38px;font-weight:normal;font-style:italic;color:#000;right:37.10px;">47 824,6</div>
<div class="t" style="top:1073.70px;font-size:12.56px;line-height:16.33px;font-weight:bold;font-style:normal;color:#000;left:58.60px;">  Расходы на руководство и управление в сфере установленных</div>
<div class="t" style="top:1089.50px;font-size:12.56px;line-height:16.33px;font-weight:bold;font-style:normal;color:#000;left:58.60px;">функций</div>
<div class="t" style="top:1073.70px;font-size:12.56px;line-height:16.33px;font-weight:bold;font-style:normal;color:#000;left:309.95px;width:400px;text-align:center;">01</div>
<div class="t" style="top:1073.70px;font-size:12.56px;line-height:16.33px;font-weight:bold;font-style:normal;color:#000;left:346.90px;width:400px;text-align:center;">04</div>
<div class="t" style="top:1073.70px;font-size:12.56px;line-height:16.33px;font-weight:bold;font-style:normal;color:#000;left:421.50px;width:400px;text-align:center;">99 0 00 00020</div>
<div class="t" style="top:1073.70px;font-size:12.56px;line-height:16.33px;font-weight:bold;font-style:normal;color:#000;left:508.75px;width:400px;text-align:center;">000</div>
<div class="t" style="top:1073.70px;font-size:12.56px;line-height:16.33px;font-weight:bold;font-style:normal;color:#000;right:381.60px;">47 824,6</div>
<div class="t" style="top:1073.70px;font-size:12.56px;line-height:16.33px;font-weight:bold;font-style:normal;color:#000;right:35.50px;">47 824,6</div>
<div class="t" style="top:1106.06px;font-size:12.6px;line-height:16.38px;font-weight:normal;font-style:normal;color:#000;left:58.60px;">    Расходы на выплаты персоналу муниципальных органов</div>
<div class="t" style="top:1106.06px;font-size:12.6px;line-height:16.38px;font-weight:normal;font-style:normal;color:#000;left:309.95px;width:400px;text-align:center;">01</div>
<div class="t" style="top:1106.06px;font-size:12.6px;line-height:16.38px;font-weight:normal;font-style:normal;color:#000;left:346.90px;width:400px;text-align:center;">04</div>
<div class="t" style="top:1106.06px;font-size:12.6px;line-height:16.38px;font-weight:normal;font-style:normal;color:#000;left:421.50px;width:400px;text-align:center;">99 0 00 00020</div>
<div class="t" style="top:1106.06px;font-size:12.6px;line-height:16.38px;font-weight:normal;font-style:normal;color:#000;left:508.75px;width:400px;text-align:center;">120</div>
<div class="t" style="top:1106.06px;font-size:12.6px;line-height:16.38px;font-weight:normal;font-style:normal;color:#000;right:381.80px;">42 439,5</div>
<div class="t" style="top:1106.06px;font-size:12.6px;line-height:16.38px;font-weight:normal;font-style:normal;color:#000;right:35.70px;">42 439,5</div>
<div class="t" style="top:1126.86px;font-size:12.6px;line-height:16.38px;font-weight:normal;font-style:normal;color:#000;left:58.60px;">    Закупка товаров, работ, услуг в сфере информационно-</div>
<div class="t" style="top:1142.86px;font-size:12.6px;line-height:16.38px;font-weight:normal;font-style:normal;color:#000;left:58.60px;">коммуникационных технологий</div>
<div class="t" style="top:1126.86px;font-size:12.6px;line-height:16.38px;font-weight:normal;font-style:normal;color:#000;left:309.95px;width:400px;text-align:center;">01</div>
<div class="t" style="top:1126.86px;font-size:12.6px;line-height:16.38px;font-weight:normal;font-style:normal;color:#000;left:346.90px;width:400px;text-align:center;">04</div>
<div class="t" style="top:1126.86px;font-size:12.6px;line-height:16.38px;font-weight:normal;font-style:normal;color:#000;left:421.50px;width:400px;text-align:center;">99 0 00 00020</div>
<div class="t" style="top:1126.86px;font-size:12.6px;line-height:16.38px;font-weight:normal;font-style:normal;color:#000;left:508.75px;width:400px;text-align:center;">242</div>
<div class="t" style="top:1126.86px;font-size:12.6px;line-height:16.38px;font-weight:normal;font-style:normal;color:#000;right:381.80px;">583,9</div>
<div class="t" style="top:1126.86px;font-size:12.6px;line-height:16.38px;font-weight:normal;font-style:normal;color:#000;right:35.70px;">583,9</div>
<div class="t" style="top:1159.06px;font-size:12.6px;line-height:16.38px;font-weight:normal;font-style:normal;color:#000;left:58.60px;">    Прочая закупка товаров, работ и услуг для обеспечения</div>
<div class="t" style="top:1175.06px;font-size:12.6px;line-height:16.38px;font-weight:normal;font-style:normal;color:#000;left:58.60px;">муниципальных нужд</div>
<div class="t" style="top:1159.06px;font-size:12.6px;line-height:16.38px;font-weight:normal;font-style:normal;color:#000;left:309.95px;width:400px;text-align:center;">01</div>
<div class="t" style="top:1159.06px;font-size:12.6px;line-height:16.38px;font-weight:normal;font-style:normal;color:#000;left:346.90px;width:400px;text-align:center;">04</div>
<div class="t" style="top:1159.06px;font-size:12.6px;line-height:16.38px;font-weight:normal;font-style:normal;color:#000;left:421.50px;width:400px;text-align:center;">99 0 00 00020</div>
<div class="t" style="top:1159.06px;font-size:12.6px;line-height:16.38px;font-weight:normal;font-style:normal;color:#000;left:508.75px;width:400px;text-align:center;">244</div>
<div class="t" style="top:1159.06px;font-size:12.6px;line-height:16.38px;font-weight:normal;font-style:normal;color:#000;right:381.80px;">4 635,1</div>
<div class="t" style="top:1159.06px;font-size:12.6px;line-height:16.38px;font-weight:normal;font-style:normal;color:#000;right:35.70px;">4 635,1</div>
<div class="t" style="top:1191.16px;font-size:12.6px;line-height:16.38px;font-weight:normal;font-style:normal;color:#000;left:58.60px;">    Уплата налога на имущество организаций и земельного налога</div>
<div class="t" style="top:1191.16px;font-size:12.6px;line-height:16.38px;font-weight:normal;font-style:normal;color:#000;left:309.95px;width:400px;text-align:center;">01</div>
<div class="t" style="top:1191.16px;font-size:12.6px;line-height:16.38px;font-weight:normal;font-style:normal;color:#000;left:346.90px;width:400px;text-align:center;">04</div>
<div class="t" style="top:1191.16px;font-size:12.6px;line-height:16.38px;font-weight:normal;font-style:normal;color:#000;left:421.50px;width:400px;text-align:center;">99 0 00 00020</div>
<div class="t" style="top:1191.16px;font-size:12.6px;line-height:16.38px;font-weight:normal;font-style:normal;color:#000;left:508.75px;width:400px;text-align:center;">851</div>
<div class="t" style="top:1191.16px;font-size:12.6px;line-height:16.38px;font-weight:normal;font-style:normal;color:#000;right:381.80px;">166,1</div>
<div class="t" style="top:1191.16px;font-size:12.6px;line-height:16.38px;font-weight:normal;font-style:normal;color:#000;right:35.70px;">166,1</div>
<div class="t" style="top:1213.80px;font-size:12.56px;line-height:16.33px;font-weight:bold;font-style:normal;color:#00f;left:58.60px;">Судебная система</div>
<div class="t" style="top:1213.80px;font-size:12.56px;line-height:16.33px;font-weight:bold;font-style:normal;color:#00f;left:309.95px;width:400px;text-align:center;">01</div>
<div class="t" style="top:1213.80px;font-size:12.56px;line-height:16.33px;font-weight:bold;font-style:normal;color:#00f;left:346.90px;width:400px;text-align:center;">05</div>
<div class="t" style="top:1213.80px;font-size:12.56px;line-height:16.33px;font-weight:bold;font-style:normal;color:#00f;left:421.50px;width:400px;text-align:center;">00 0 00 00000</div>
<div class="t" style="top:1213.80px;font-size:12.56px;line-height:16.33px;font-weight:bold;font-style:normal;color:#00f;left:508.75px;width:400px;text-align:center;">000</div>
<div class="t" style="top:1213.80px;font-size:12.56px;line-height:16.33px;font-weight:bold;font-style:normal;color:#00f;right:381.60px;">0,0</div>
<div class="t" style="top:1213.80px;font-size:12.56px;line-height:16.33px;font-weight:bold;font-style:normal;color:#00f;right:268.10px;">168,1</div>
<div class="t" style="top:1213.80px;font-size:12.56px;line-height:16.33px;font-weight:bold;font-style:normal;color:#00f;right:35.50px;">168,1</div>
<div class="t" style="top:1236.96px;font-size:12.6px;line-height:16.38px;font-weight:normal;font-style:normal;color:#000;left:58.60px;">Составление (изменение) списков кандидатов в присяжные</div>
<div class="t" style="top:1252.96px;font-size:12.6px;line-height:16.38px;font-weight:normal;font-style:normal;color:#000;left:58.60px;">заседатели федеральных судов общей юрисдикции в Российской</div>
<div class="t" style="top:1268.96px;font-size:12.6px;line-height:16.38px;font-weight:normal;font-style:normal;color:#000;left:58.60px;">Федерации</div>
<div class="t" style="top:1236.96px;font-size:12.6px;line-height:16.38px;font-weight:normal;font-style:normal;color:#000;left:309.95px;width:400px;text-align:center;">01</div>
<div class="t" style="top:1236.96px;font-size:12.6px;line-height:16.38px;font-weight:normal;font-style:normal;color:#000;left:346.90px;width:400px;text-align:center;">05</div>
<div class="t" style="top:1236.96px;font-size:12.6px;line-height:16.38px;font-weight:normal;font-style:normal;color:#000;left:421.50px;width:400px;text-align:center;">99 0 00 51200</div>
<div class="t" style="top:1236.96px;font-size:12.6px;line-height:16.38px;font-weight:normal;font-style:normal;color:#000;left:508.75px;width:400px;text-align:center;">000</div>
<div class="t" style="top:1236.96px;font-size:12.6px;line-height:16.38px;font-weight:normal;font-style:normal;color:#000;right:381.80px;">0,0</div>
<div class="t" style="top:1236.96px;font-size:12.6px;line-height:16.38px;font-weight:normal;font-style:normal;color:#000;right:268.30px;">168,1</div>
<div class="t" style="top:1236.96px;font-size:12.6px;line-height:16.38px;font-weight:normal;font-style:normal;color:#000;right:35.70px;">168,1</div>
<div class="t" style="top:1287.16px;font-size:12.6px;line-height:16.38px;font-weight:normal;font-style:normal;color:#000;left:58.60px;">   Прочая закупка товаров, работ и услуг для муниципальных нужд</div>
<div class="t" style="top:1287.16px;font-size:12.6px;line-height:16.38px;font-weight:normal;font-style:normal;color:#000;left:309.95px;width:400px;text-align:center;">01</div>
<div class="t" style="top:1287.16px;font-size:12.6px;line-height:16.38px;font-weight:normal;font-style:normal;color:#000;left:346.90px;width:400px;text-align:center;">05</div>
<div class="t" style="top:1287.16px;font-size:12.6px;line-height:16.38px;font-weight:normal;font-style:normal;color:#000;left:421.50px;width:400px;text-align:center;">99 0 00 51200</div>
<div class="t" style="top:1287.16px;font-size:12.6px;line-height:16.38px;font-weight:normal;font-style:normal;color:#000;left:508.75px;width:400px;text-align:center;">244</div>
<div class="t" style="top:1287.16px;font-size:12.6px;line-height:16.38px;font-weight:normal;font-style:normal;color:#000;right:381.80px;">0,0</div>
<div class="t" style="top:1287.16px;font-size:12.6px;line-height:16.38px;font-weight:normal;font-style:normal;color:#000;right:268.30px;">168,1</div>
<div class="t" style="top:1287.16px;font-size:12.6px;line-height:16.38px;font-weight:normal;font-style:normal;color:#000;right:35.70px;">168,1</div>
<div class="t" style="top:1309.94px;font-size:13.83px;line-height:17.98px;font-weight:bold;font-style:normal;color:#00f;left:58.60px;">Другие общегосударственные вопросы</div>
<div class="t" style="top:1309.94px;font-size:13.83px;line-height:17.98px;font-weight:bold;font-style:normal;color:#00f;left:309.95px;width:400px;text-align:center;">01</div>
<div class="t" style="top:1309.94px;font-size:13.83px;line-height:17.98px;font-weight:bold;font-style:normal;color:#00f;left:346.90px;width:400px;text-align:center;">13</div>
<div class="t" style="top:1309.94px;font-size:13.83px;line-height:17.98px;font-weight:bold;font-style:normal;color:#00f;left:421.50px;width:400px;text-align:center;">00 0 00 00000</div>
<div class="t" style="top:1309.94px;font-size:13.83px;line-height:17.98px;font-weight:bold;font-style:normal;color:#00f;left:508.75px;width:400px;text-align:center;">000</div>
<div class="t" style="top:1309.94px;font-size:13.83px;line-height:17.98px;font-weight:bold;font-style:normal;color:#00f;right:382.00px;">4 799,2</div>
<div class="t" style="top:1309.94px;font-size:13.83px;line-height:17.98px;font-weight:bold;font-style:normal;color:#00f;right:35.90px;">4 799,2</div>
<div class="t" style="top:1331.04px;font-size:13.83px;line-height:17.98px;font-weight:bold;font-style:normal;color:#000;left:58.60px;">Муниципальная программа &quot;Развитие городского</div>
<div class="t" style="top:1348.84px;font-size:13.83px;line-height:17.98px;font-weight:bold;font-style:normal;color:#000;left:58.60px;">сообщества&quot; на 2015 - 2020 годы</div>
<div class="t" style="top:1331.04px;font-size:13.83px;line-height:17.98px;font-weight:bold;font-style:normal;color:#000;left:309.95px;width:400px;text-align:center;">01</div>
<div class="t" style="top:1331.04px;font-size:13.83px;line-height:17.98px;font-weight:bold;font-style:normal;color:#000;left:346.90px;width:400px;text-align:center;">13</div>
<div class="t" style="top:1331.04px;font-size:13.83px;line-height:17.98px;font-weight:bold;font-style:normal;color:#000;left:421.50px;width:400px;text-align:center;">04 0 00 00000</div>
<div class="t" style="top:1331.04px;font-size:13.83px;line-height:17.98px;font-weight:bold;font-style:normal;color:#000;left:508.75px;width:400px;text-align:center;">000</div>
<div class="t" style="top:1331.04px;font-size:13.83px;line-height:17.98px;font-weight:bold;font-style:normal;color:#000;right:382.00px;">381,0</div>
<div class="t" style="top:1331.04px;font-size:13.83px;line-height:17.98px;font-weight:bold;font-style:normal;color:#000;right:35.90px;">381,0</div>
<div class="t" style="top:1364.86px;font-size:12.6px;line-height:16.38px;font-weight:normal;font-style:normal;color:#000;left:58.60px;">    Социальные денежные выплаты победителям, призерам,</div>
<div class="t" style="top:1380.86px;font-size:12.6px;line-height:16.38px;font-weight:normal;font-style:normal;color:#000;left:58.60px;">финалистам и участникам конкурсов, соревнований и иных</div>
<div class="t" style="top:1396.86px;font-size:12.6px;line-height:16.38px;font-weight:normal;font-style:normal;color:#000;left:58.60px;">социально-значимых мероприятий</div>
<div class="t" style="top:1364.86px;font-size:12.6px;line-height:16.38px;font-weight:normal;font-style:normal;color:#000;left:309.95px;width:400px;text-align:center;">01</div>
<div class="t" style="top:1364.86px;font-size:12.6px;line-height:16.38px;font-weight:normal;font-style:normal;color:#000;left:346.90px;width:400px;text-align:center;">13</div>
<div class="t" style="top:1364.86px;font-size:12.6px;line-height:16.38px;font-weight:normal;font-style:normal;color:#000;left:421.50px;width:400px;text-align:center;">04 0 00 10360</div>
<div class="t" style="top:1364.86px;font-size:12.6px;line-height:16.38px;font-weight:normal;font-style:normal;color:#000;left:508.75px;width:400px;text-align:center;">330</div>
<div class="t" style="top:1364.86px;font-size:12.6px;line-height:16.38px;font-weight:normal;font-style:normal;color:#000;right:381.80px;">125,0</div>
<div class="t" style="top:1364.86px;font-size:12.6px;line-height:16.38px;font-weight:normal;font-style:normal;color:#000;right:35.70px;">125,0</div>
<div class="t" style="top:1412.76px;font-size:12.6px;line-height:16.38px;font-weight:normal;font-style:normal;color:#000;left:58.60px;">  Прочая закупка товаров, работ и услуг для обеспечения</div>
<div class="t" style="top:1428.76px;font-size:12.6px;line-height:16.38px;font-weight:normal;font-style:normal;color:#000;left:58.60px;">муниципальных нужд</div>
<div class="t" style="top:1412.76px;font-size:12.6px;line-height:16.38px;font-weight:normal;font-style:normal;color:#000;left:309.95px;width:400px;text-align:center;">01</div>
<div class="t" style="top:1412.76px;font-size:12.6px;line-height:16.38px;font-weight:normal;font-style:normal;color:#000;left:346.90px;width:400px;text-align:center;">13</div>
<div class="t" style="top:1412.76px;font-size:12.6px;line-height:16.38px;font-weight:normal;font-style:normal;color:#000;left:421.50px;width:400px;text-align:center;">04 0 00 99990</div>
<div class="t" style="top:1412.76px;font-size:12.6px;line-height:16.38px;font-weight:normal;font-style:normal;color:#000;left:508.75px;width:400px;text-align:center;">244</div>
<div class="t" style="top:1412.76px;font-size:12.6px;line-height:16.38px;font-weight:normal;font-style:normal;color:#000;right:381.80px;">245,0</div>
<div class="t" style="top:1412.76px;font-size:12.6px;line-height:16.38px;font-weight:normal;font-style:normal;color:#000;right:35.70px;">245,0</div>
<div class="t" style="top:1444.76px;font-size:12.6px;line-height:16.38px;font-weight:normal;font-style:normal;color:#000;left:58.60px;">    Субсидии ТОС на возмещение расходов, связанных с их</div>
<div class="t" style="top:1460.76px;font-size:12.6px;line-height:16.38px;font-weight:normal;font-style:normal;color:#000;left:58.60px;">созданием, регистрацией и перерегистрацией</div>
<div class="t" style="top:1444.76px;font-size:12.6px;line-height:16.38px;font-weight:normal;font-style:normal;color:#000;left:309.95px;width:400px;text-align:center;">01</div>
<div class="t" style="top:1444.76px;font-size:12.6px;line-height:16.38px;font-weight:normal;font-style:normal;color:#000;left:346.90px;width:400px;text-align:center;">13</div>
<div class="t" style="top:1444.76px;font-size:12.6px;line-height:16.38px;font-weight:normal;font-style:normal;color:#000;left:421.50px;width:400px;text-align:center;">04 0 00 99990</div>
<div class="t" style="top:1444.76px;font-size:12.6px;line-height:16.38px;font-weight:normal;font-style:normal;color:#000;left:508.75px;width:400px;text-align:center;">630</div>
<div class="t" style="top:1444.76px;font-size:12.6px;line-height:16.38px;font-weight:normal;font-style:normal;color:#000;right:381.80px;">11,0</div>
<div class="t" style="top:1444.76px;font-size:12.6px;line-height:16.38px;font-weight:normal;font-style:normal;color:#000;right:35.70px;">11,0</div>
<div class="t" style="top:1476.80px;font-size:12.56px;line-height:16.33px;font-weight:bold;font-style:normal;color:#000;left:58.60px;">    Закупка товаров, работ, услуг в целях капитального</div>
<div class="t" style="top:1492.60px;font-size:12.56px;line-height:16.33px;font-weight:bold;font-style:normal;color:#000;left:58.60px;">ремонта муниципального имущества</div>
<div class="t" style="top:1476.80px;font-size:12.56px;line-height:16.33px;font-weight:bold;font-style:normal;color:#000;left:309.95px;width:400px;text-align:center;">01</div>
<div class="t" style="top:1476.80px;font-size:12.56px;line-height:16.33px;font-weight:bold;font-style:normal;color:#000;left:346.90px;width:400px;text-align:center;">13</div>
<div class="t" style="top:1476.80px;font-size:12.56px;line-height:16.33px;font-weight:bold;font-style:normal;color:#000;left:421.50px;width:400px;text-align:center;">99 0 00 20320</div>
<div class="t" style="top:1476.80px;font-size:12.56px;line-height:16.33px;font-weight:bold;font-style:normal;color:#000;left:508.75px;width:400px;text-align:center;">243</div>
<div class="t" style="top:1476.80px;font-size:12.56px;line-height:16.33px;font-weight:bold;font-style:normal;color:#000;right:381.60px;">2 312,6</div>
<div class="t" style="top:1476.80px;font-size:12.56px;line-height:16.33px;font-weight:bold;font-style:normal;color:#000;right:35.50px;">2 312,6</div>
<div class="t" style="top:1508.70px;font-size:12.56px;line-height:16.33px;font-weight:bold;font-style:normal;color:#000;left:58.60px;">Прочая закупка товаров, работ и услуг для обеспечения</div>
<div class="t" style="top:1524.50px;font-size:12.56px;line-height:16.33px;font-weight:bold;font-style:normal;color:#000;left:58.60px;">муниципальных нужд</div>
<div class="t" style="top:1508.70px;font-size:12.56px;line-height:16.33px;font-weight:bold;font-style:normal;color:#000;left:309.95px;width:400px;text-align:center;">01</div>
<div class="t" style="top:1508.70px;font-size:12.56px;line-height:16.33px;font-weight:bold;font-style:normal;color:#000;left:346.90px;width:400px;text-align:center;">13</div>
<div class="t" style="top:1508.70px;font-size:12.56px;line-height:16.33px;font-weight:bold;font-style:normal;color:#000;left:421.50px;width:400px;text-align:center;">99 0 00 99990</div>
<div class="t" style="top:1508.70px;font-size:12.56px;line-height:16.33px;font-weight:bold;font-style:normal;color:#000;left:508.75px;width:400px;text-align:center;">244</div>
<div class="t" style="top:1508.70px;font-size:12.56px;line-height:16.33px;font-weight:bold;font-style:normal;color:#000;right:381.60px;">1 400,1</div>
<div class="t" style="top:1508.70px;font-size:12.56px;line-height:16.33px;font-weight:bold;font-style:normal;color:#000;right:35.50px;">1 400,1</div>
<div class="t" style="top:1541.00px;font-size:12.56px;line-height:16.33px;font-weight:bold;font-style:normal;color:#000;left:58.60px;">Уплата налога на имущество организаций и земельного</div>
<div class="t" style="top:1556.80px;font-size:12.56px;line-height:16.33px;font-weight:bold;font-style:normal;color:#000;left:58.60px;">налога</div>
<div class="t" style="top:1541.00px;font-size:12.56px;line-height:16.33px;font-weight:bold;font-style:normal;color:#000;left:309.95px;width:400px;text-align:center;">01</div>
<div class="t" style="top:1541.00px;font-size:12.56px;line-height:16.33px;font-weight:bold;font-style:normal;color:#000;left:346.90px;width:400px;text-align:center;">13</div>
<div class="t" style="top:1541.00px;font-size:12.56px;line-height:16.33px;font-weight:bold;font-style:normal;color:#000;left:421.50px;width:400px;text-align:center;">99 0 00 99990</div>
<div class="t" style="top:1541.00px;font-size:12.56px;line-height:16.33px;font-weight:bold;font-style:normal;color:#000;left:508.75px;width:400px;text-align:center;">851</div>
<div class="t" style="top:1541.00px;font-size:12.56px;line-height:16.33px;font-weight:bold;font-style:normal;color:#000;right:381.60px;">705,5</div>
<div class="t" style="top:1541.00px;font-size:12.56px;line-height:16.33px;font-weight:bold;font-style:normal;color:#000;right:35.50px;">705,5</div>
<div class="t" style="top:1573.99px;font-size:15.0px;line-height:19.5px;font-weight:bold;font-style:normal;color:#00f;left:58.60px;">Национальная экономика</div>
<div class="t" style="top:1573.99px;font-size:15.0px;line-height:19.5px;font-weight:bold;font-style:normal;color:#00f;left:309.95px;width:400px;text-align:center;">04</div>
<div class="t" style="top:1573.99px;font-size:15.0px;line-height:19.5px;font-weight:bold;font-style:normal;color:#00f;left:346.90px;width:400px;text-align:center;">00</div>
<div class="t" style="top:1573.99px;font-size:15.0px;line-height:19.5px;font-weight:bold;font-style:normal;color:#00f;left:421.50px;width:400px;text-align:center;">00 0 00 00000</div>
<div class="t" style="top:1573.99px;font-size:15.0px;line-height:19.5px;font-weight:bold;font-style:normal;color:#00f;left:508.75px;width:400px;text-align:center;">000</div>
<div class="t" style="top:1573.99px;font-size:15.0px;line-height:19.5px;font-weight:bold;font-style:normal;color:#00f;right:382.00px;">38 467,0</div>
<div class="t" style="top:1573.99px;font-size:15.0px;line-height:19.5px;font-weight:bold;font-style:normal;color:#00f;right:161.20px;">-515,9</div>
<div class="t" style="top:1573.99px;font-size:15.0px;line-height:19.5px;font-weight:bold;font-style:normal;color:#00f;right:35.90px;">37 951,1</div>
<div class="t" style="top:1593.94px;font-size:13.83px;line-height:17.98px;font-weight:bold;font-style:normal;color:#00f;left:58.60px;">Дорожное хозяйство</div>
<div class="t" style="top:1593.94px;font-size:13.83px;line-height:17.98px;font-weight:bold;font-style:normal;color:#00f;left:309.95px;width:400px;text-align:center;">04</div>
<div class="t" style="top:1593.94px;font-size:13.83px;line-height:17.98px;font-weight:bold;font-style:normal;color:#00f;left:346.90px;width:400px;text-align:center;">09</div>
<div class="t" style="top:1593.94px;font-size:13.83px;line-height:17.98px;font-weight:bold;font-style:normal;color:#00f;left:421.50px;width:400px;text-align:center;">00 0 00 00000</div>
<div class="t" style="top:1593.94px;font-size:13.83px;line-height:17.98px;font-weight:bold;font-style:normal;color:#00f;left:508.75px;width:400px;text-align:center;">000</div>
<div class="t" style="top:1593.94px;font-size:13.83px;line-height:17.98px;font-weight:bold;font-style:normal;color:#00f;right:382.00px;">38 153,4</div>
<div class="t" style="top:1593.94px;font-size:13.83px;line-height:17.98px;font-weight:bold;font-style:normal;color:#00f;right:161.20px;">-515,9</div>
<div class="t" style="top:1593.94px;font-size:13.83px;line-height:17.98px;font-weight:bold;font-style:normal;color:#00f;right:35.90px;">37 637,5</div>
<div class="t" style="top:1614.84px;font-size:13.83px;line-height:17.98px;font-weight:bold;font-style:normal;color:#000;left:58.60px;">Муниципальная программа &quot;Развитие дорожного</div>
<div class="t" style="top:1632.64px;font-size:13.83px;line-height:17.98px;font-weight:bold;font-style:normal;color:#000;left:58.60px;">хозяйства&quot; на 2015 - 2020 годы&quot;</div>
<div class="t" style="top:1614.84px;font-size:13.83px;line-height:17.98px;font-weight:bold;font-style:normal;color:#000;left:309.95px;width:400px;text-align:center;">04</div>
<div class="t" style="top:1614.84px;font-size:13.83px;line-height:17.98px;font-weight:bold;font-style:normal;color:#000;left:346.90px;width:400px;text-align:center;">09</div>
<div class="t" style="top:1614.84px;font-size:13.83px;line-height:17.98px;font-weight:bold;font-style:normal;color:#000;left:421.50px;width:400px;text-align:center;">10 0 00 00000</div>
<div class="t" style="top:1614.84px;font-size:13.83px;line-height:17.98px;font-weight:bold;font-style:normal;color:#000;left:508.75px;width:400px;text-align:center;">000</div>
<div class="t" style="top:1614.84px;font-size:13.83px;line-height:17.98px;font-weight:bold;font-style:normal;color:#000;right:382.00px;">38 153,4</div>
<div class="t" style="top:1614.84px;font-size:13.83px;line-height:17.98px;font-weight:bold;font-style:normal;color:#000;right:161.20px;">-515,9</div>
<div class="t" style="top:1614.84px;font-size:13.83px;line-height:17.98px;font-weight:bold;font-style:normal;color:#000;right:35.90px;">37 637,5</div>
<div class="t" style="top:1648.84px;font-size:13.83px;line-height:17.98px;font-weight:bold;font-style:normal;color:#000;left:58.60px;">Подпрограмма &quot;Содержание улично-дорожной сети&quot;</div>
<div class="t" style="top:1648.84px;font-size:13.83px;line-height:17.98px;font-weight:bold;font-style:normal;color:#000;left:309.95px;width:400px;text-align:center;">04</div>
<div class="t" style="top:1648.84px;font-size:13.83px;line-height:17.98px;font-weight:bold;font-style:normal;color:#000;left:346.90px;width:400px;text-align:center;">09</div>
<div class="t" style="top:1648.84px;font-size:13.83px;line-height:17.98px;font-weight:bold;font-style:normal;color:#000;left:421.50px;width:400px;text-align:center;">10 2 00 00000</div>
<div class="t" style="top:1648.84px;font-size:13.83px;line-height:17.98px;font-weight:bold;font-style:normal;color:#000;left:508.75px;width:400px;text-align:center;">000</div>
<div class="t" style="top:1648.84px;font-size:13.83px;line-height:17.98px;font-weight:bold;font-style:normal;color:#000;right:382.00px;">38 153,4</div>
<div class="t" style="top:1648.84px;font-size:13.83px;line-height:17.98px;font-weight:bold;font-style:normal;color:#000;right:161.20px;">-515,9</div>
<div class="t" style="top:1648.84px;font-size:13.83px;line-height:17.98px;font-weight:bold;font-style:normal;color:#000;right:35.90px;">37 637,5</div>
<div class="t" style="top:1679.80px;font-size:12.55px;line-height:16.32px;font-weight:bold;font-style:italic;color:#000;left:58.60px;"> Основное мероприятие &quot;Текущее содержание улично-</div>
<div class="t" style="top:1695.60px;font-size:12.55px;line-height:16.32px;font-weight:bold;font-style:italic;color:#000;left:58.60px;">дорожной сети и элементов обустройства&quot;</div>
<div class="t" style="top:1679.80px;font-size:12.55px;line-height:16.32px;font-weight:bold;font-style:italic;color:#000;left:309.95px;width:400px;text-align:center;">04</div>
<div class="t" style="top:1679.80px;font-size:12.55px;line-height:16.32px;font-weight:bold;font-style:italic;color:#000;left:346.90px;width:400px;text-align:center;">09</div>
<div class="t" style="top:1679.80px;font-size:12.55px;line-height:16.32px;font-weight:bold;font-style:italic;color:#000;left:421.50px;width:400px;text-align:center;">10 2 01 00000</div>
<div class="t" style="top:1679.80px;font-size:12.55px;line-height:16.32px;font-weight:bold;font-style:italic;color:#000;left:508.75px;width:400px;text-align:center;">000</div>
<div class="t" style="top:1679.80px;font-size:12.55px;line-height:16.32px;font-weight:bold;font-style:italic;color:#000;right:383.60px;">38 153,4</div>
<div class="t" style="top:1679.80px;font-size:12.55px;line-height:16.32px;font-weight:bold;font-style:italic;color:#000;right:162.80px;">-515,9</div>
<div class="t" style="top:1679.80px;font-size:12.55px;line-height:16.32px;font-weight:bold;font-style:italic;color:#000;right:37.50px;">37 637,5</div>
<div class="t" style="top:308.00px;font-size:16.2px;line-height:21.06px;font-weight:bold;font-style:normal;color:#f00;letter-spacing:0.23px;right:1186.80px;letter-spacing:0;">4</div>
<div class="l" style="left:26px;top:25px;width:1183px;height:2px;background:#000"></div>
<div class="l" style="left:26px;top:24px;width:1183px;height:1px;background:rgba(0,0,0,.6)"></div>
<div class="l" style="left:26px;top:27px;width:1180px;height:1px;background:rgba(0,0,0,.4)"></div>
<div class="l" style="left:27px;top:24px;width:2px;height:1687px;background:#000"></div>
<div class="l" style="left:26px;top:24px;width:1px;height:1687px;background:rgba(0,0,0,.4)"></div>
<div class="l" style="left:1206px;top:24px;width:3px;height:1688px;background:#000"></div>
<div class="l" style="left:26px;top:105px;width:1183px;height:1px;background:#000"></div>
<div class="l" style="left:26px;top:104px;width:1183px;height:1px;background:rgba(0,0,0,.6)"></div>
<div class="l" style="left:26px;top:106px;width:1183px;height:1px;background:rgba(0,0,0,.7)"></div>
<div class="l" style="left:26px;top:120px;width:30px;height:3px;background:#000"></div>
<div class="l" style="left:55px;top:121px;width:1154px;height:3px;background:#000"></div>
<div class="l" style="left:55px;top:120px;width:1154px;height:1px;background:rgba(0,0,0,.5)"></div>
<div class="l" style="left:26px;top:305px;width:1183px;height:3px;background:#000"></div>
<div class="l" style="left:56px;top:27px;width:1px;height:1684px;background:#000"></div>
<div class="l" style="left:55px;top:27px;width:1px;height:1684px;background:rgba(0,0,0,.45)"></div>
<div class="l" style="left:421px;top:27px;width:1px;height:1684px;background:#000"></div>
<div class="l" style="left:420px;top:27px;width:1px;height:1684px;background:rgba(0,0,0,.45)"></div>
<div class="l" style="left:491px;top:27px;width:1px;height:1684px;background:#000"></div>
<div class="l" style="left:490px;top:27px;width:1px;height:1684px;background:rgba(0,0,0,.45)"></div>
<div class="l" style="left:527px;top:27px;width:1px;height:1684px;background:#000"></div>
<div class="l" style="left:526px;top:27px;width:1px;height:1684px;background:rgba(0,0,0,.45)"></div>
<div class="l" style="left:565px;top:27px;width:1px;height:1684px;background:#000"></div>
<div class="l" style="left:564px;top:27px;width:1px;height:1684px;background:rgba(0,0,0,.45)"></div>
<div class="l" style="left:677px;top:27px;width:1px;height:1684px;background:#000"></div>
<div class="l" style="left:676px;top:27px;width:1px;height:1684px;background:rgba(0,0,0,.45)"></div>
<div class="l" style="left:739px;top:27px;width:1px;height:1684px;background:#000"></div>
<div class="l" style="left:738px;top:27px;width:1px;height:1684px;background:rgba(0,0,0,.45)"></div>
<div class="l" style="left:861px;top:27px;width:1px;height:1684px;background:#000"></div>
<div class="l" style="left:860px;top:27px;width:1px;height:1684px;background:rgba(0,0,0,.45)"></div>
<div class="l" style="left:974px;top:27px;width:1px;height:1684px;background:#000"></div>
<div class="l" style="left:973px;top:27px;width:1px;height:1684px;background:rgba(0,0,0,.45)"></div>
<div class="l" style="left:1082px;top:27px;width:1px;height:1684px;background:#000"></div>
<div class="l" style="left:1081px;top:27px;width:1px;height:1684px;background:rgba(0,0,0,.45)"></div>
<div class="l" style="left:55px;top:107px;width:3px;height:13px;background:#000"></div>
<div class="l" style="left:55px;top:171px;width:1152px;height:1px;background:#000"></div>
<div class="l" style="left:55px;top:172px;width:1152px;height:1px;background:rgba(0,0,0,.25)"></div>
<div class="l" style="left:55px;top:170px;width:1152px;height:1px;background:rgba(0,0,0,.15)"></div>
<div class="l" style="left:55px;top:192px;width:1152px;height:1px;background:#000"></div>
<div class="l" style="left:55px;top:193px;width:1152px;height:1px;background:rgba(0,0,0,.25)"></div>
<div class="l" style="left:55px;top:191px;width:1152px;height:1px;background:rgba(0,0,0,.15)"></div>
<div class="l" style="left:55px;top:231px;width:1152px;height:1px;background:#000"></div>
<div class="l" style="left:55px;top:232px;width:1152px;height:1px;background:rgba(0,0,0,.25)"></div>
<div class="l" style="left:55px;top:230px;width:1152px;height:1px;background:rgba(0,0,0,.15)"></div>
<div class="l" style="left:55px;top:252px;width:1152px;height:1px;background:#000"></div>
<div class="l" style="left:55px;top:253px;width:1152px;height:1px;background:rgba(0,0,0,.25)"></div>
<div class="l" style="left:55px;top:251px;width:1152px;height:1px;background:rgba(0,0,0,.15)"></div>
<div class="l" style="left:55px;top:284px;width:1152px;height:1px;background:#000"></div>
<div class="l" style="left:55px;top:285px;width:1152px;height:1px;background:rgba(0,0,0,.25)"></div>
<div class="l" style="left:55px;top:283px;width:1152px;height:1px;background:rgba(0,0,0,.15)"></div>
<div class="l" style="left:55px;top:348px;width:1152px;height:1px;background:#000"></div>
<div class="l" style="left:55px;top:349px;width:1152px;height:1px;background:rgba(0,0,0,.25)"></div>
<div class="l" style="left:55px;top:347px;width:1152px;height:1px;background:rgba(0,0,0,.15)"></div>
<div class="l" style="left:55px;top:369px;width:1152px;height:1px;background:#000"></div>
<div class="l" style="left:55px;top:370px;width:1152px;height:1px;background:rgba(0,0,0,.25)"></div>
<div class="l" style="left:55px;top:368px;width:1152px;height:1px;background:rgba(0,0,0,.15)"></div>
<div class="l" style="left:55px;top:395px;width:1152px;height:1px;background:#000"></div>
<div class="l" style="left:55px;top:396px;width:1152px;height:1px;background:rgba(0,0,0,.25)"></div>
<div class="l" style="left:55px;top:394px;width:1152px;height:1px;background:rgba(0,0,0,.15)"></div>
<div class="l" style="left:55px;top:416px;width:1152px;height:1px;background:#000"></div>
<div class="l" style="left:55px;top:417px;width:1152px;height:1px;background:rgba(0,0,0,.25)"></div>
<div class="l" style="left:55px;top:415px;width:1152px;height:1px;background:rgba(0,0,0,.15)"></div>
<div class="l" style="left:55px;top:516px;width:1152px;height:1px;background:#000"></div>
<div class="l" style="left:55px;top:517px;width:1152px;height:1px;background:rgba(0,0,0,.25)"></div>
<div class="l" style="left:55px;top:515px;width:1152px;height:1px;background:rgba(0,0,0,.15)"></div>
<div class="l" style="left:55px;top:537px;width:1152px;height:1px;background:#000"></div>
<div class="l" style="left:55px;top:538px;width:1152px;height:1px;background:rgba(0,0,0,.25)"></div>
<div class="l" style="left:55px;top:536px;width:1152px;height:1px;background:rgba(0,0,0,.15)"></div>
<div class="l" style="left:55px;top:569px;width:1152px;height:1px;background:#000"></div>
<div class="l" style="left:55px;top:570px;width:1152px;height:1px;background:rgba(0,0,0,.25)"></div>
<div class="l" style="left:55px;top:568px;width:1152px;height:1px;background:rgba(0,0,0,.15)"></div>
<div class="l" style="left:55px;top:640px;width:1152px;height:1px;background:#000"></div>
<div class="l" style="left:55px;top:641px;width:1152px;height:1px;background:rgba(0,0,0,.25)"></div>
<div class="l" style="left:55px;top:639px;width:1152px;height:1px;background:rgba(0,0,0,.15)"></div>
<div class="l" style="left:55px;top:661px;width:1152px;height:1px;background:#000"></div>
<div class="l" style="left:55px;top:662px;width:1152px;height:1px;background:rgba(0,0,0,.25)"></div>
<div class="l" style="left:55px;top:660px;width:1152px;height:1px;background:rgba(0,0,0,.15)"></div>
<div class="l" style="left:55px;top:693px;width:1152px;height:1px;background:#000"></div>
<div class="l" style="left:55px;top:694px;width:1152px;height:1px;background:rgba(0,0,0,.25)"></div>
<div class="l" style="left:55px;top:692px;width:1152px;height:1px;background:rgba(0,0,0,.15)"></div>
<div class="l" style="left:55px;top:725px;width:1152px;height:1px;background:#000"></div>
<div class="l" style="left:55px;top:726px;width:1152px;height:1px;background:rgba(0,0,0,.25)"></div>
<div class="l" style="left:55px;top:724px;width:1152px;height:1px;background:rgba(0,0,0,.15)"></div>
<div class="l" style="left:55px;top:808px;width:1152px;height:1px;background:#000"></div>
<div class="l" style="left:55px;top:809px;width:1152px;height:1px;background:rgba(0,0,0,.25)"></div>
<div class="l" style="left:55px;top:807px;width:1152px;height:1px;background:rgba(0,0,0,.15)"></div>
<div class="l" style="left:55px;top:829px;width:1152px;height:1px;background:#000"></div>
<div class="l" style="left:55px;top:830px;width:1152px;height:1px;background:rgba(0,0,0,.25)"></div>
<div class="l" style="left:55px;top:828px;width:1152px;height:1px;background:rgba(0,0,0,.15)"></div>
<div class="l" style="left:55px;top:861px;width:1152px;height:1px;background:#000"></div>
<div class="l" style="left:55px;top:862px;width:1152px;height:1px;background:rgba(0,0,0,.25)"></div>
<div class="l" style="left:55px;top:860px;width:1152px;height:1px;background:rgba(0,0,0,.15)"></div>
<div class="l" style="left:55px;top:893px;width:1152px;height:1px;background:#000"></div>
<div class="l" style="left:55px;top:894px;width:1152px;height:1px;background:rgba(0,0,0,.25)"></div>
<div class="l" style="left:55px;top:892px;width:1152px;height:1px;background:rgba(0,0,0,.15)"></div>
<div class="l" style="left:55px;top:914px;width:1152px;height:1px;background:#000"></div>
<div class="l" style="left:55px;top:915px;width:1152px;height:1px;background:rgba(0,0,0,.25)"></div>
<div class="l" style="left:55px;top:913px;width:1152px;height:1px;background:rgba(0,0,0,.15)"></div>
<div class="l" style="left:55px;top:999px;width:1152px;height:1px;background:#000"></div>
<div class="l" style="left:55px;top:1000px;width:1152px;height:1px;background:rgba(0,0,0,.25)"></div>
<div class="l" style="left:55px;top:998px;width:1152px;height:1px;background:rgba(0,0,0,.15)"></div>
<div class="l" style="left:55px;top:1020px;width:1152px;height:1px;background:#000"></div>
<div class="l" style="left:55px;top:1021px;width:1152px;height:1px;background:rgba(0,0,0,.25)"></div>
<div class="l" style="left:55px;top:1019px;width:1152px;height:1px;background:rgba(0,0,0,.15)"></div>
<div class="l" style="left:55px;top:1052px;width:1152px;height:1px;background:#000"></div>
<div class="l" style="left:55px;top:1053px;width:1152px;height:1px;background:rgba(0,0,0,.25)"></div>
<div class="l" style="left:55px;top:1051px;width:1152px;height:1px;background:rgba(0,0,0,.15)"></div>
<div class="l" style="left:55px;top:1073px;width:1152px;height:1px;background:#000"></div>
<div class="l" style="left:55px;top:1074px;width:1152px;height:1px;background:rgba(0,0,0,.25)"></div>
<div class="l" style="left:55px;top:1072px;width:1152px;height:1px;background:rgba(0,0,0,.15)"></div>
<div class="l" style="left:55px;top:1105px;width:1152px;height:1px;background:#000"></div>
<div class="l" style="left:55px;top:1106px;width:1152px;height:1px;background:rgba(0,0,0,.25)"></div>
<div class="l" style="left:55px;top:1104px;width:1152px;height:1px;background:rgba(0,0,0,.15)"></div>
<div class="l" style="left:55px;top:1126px;width:1152px;height:1px;background:#000"></div>
<div class="l" style="left:55px;top:1127px;width:1152px;height:1px;background:rgba(0,0,0,.25)"></div>
<div class="l" style="left:55px;top:1125px;width:1152px;height:1px;background:rgba(0,0,0,.15)"></div>
<div class="l" style="left:55px;top:1158px;width:1152px;height:1px;background:#000"></div>
<div class="l" style="left:55px;top:1159px;width:1152px;height:1px;background:rgba(0,0,0,.25)"></div>
<div class="l" style="left:55px;top:1157px;width:1152px;height:1px;background:rgba(0,0,0,.15)"></div>
<div class="l" style="left:55px;top:1190px;width:1152px;height:1px;background:#000"></div>
<div class="l" style="left:55px;top:1191px;width:1152px;height:1px;background:rgba(0,0,0,.25)"></div>
<div class="l" style="left:55px;top:1189px;width:1152px;height:1px;background:rgba(0,0,0,.15)"></div>
<div class="l" style="left:55px;top:1213px;width:1152px;height:1px;background:#000"></div>
<div class="l" style="left:55px;top:1214px;width:1152px;height:1px;background:rgba(0,0,0,.25)"></div>
<div class="l" style="left:55px;top:1212px;width:1152px;height:1px;background:rgba(0,0,0,.15)"></div>
<div class="l" style="left:55px;top:1236px;width:1152px;height:1px;background:#000"></div>
<div class="l" style="left:55px;top:1237px;width:1152px;height:1px;background:rgba(0,0,0,.25)"></div>
<div class="l" style="left:55px;top:1235px;width:1152px;height:1px;background:rgba(0,0,0,.15)"></div>
<div class="l" style="left:55px;top:1286px;width:1152px;height:1px;background:#000"></div>
<div class="l" style="left:55px;top:1287px;width:1152px;height:1px;background:rgba(0,0,0,.25)"></div>
<div class="l" style="left:55px;top:1285px;width:1152px;height:1px;background:rgba(0,0,0,.15)"></div>
<div class="l" style="left:55px;top:1309px;width:1152px;height:1px;background:#000"></div>
<div class="l" style="left:55px;top:1310px;width:1152px;height:1px;background:rgba(0,0,0,.25)"></div>
<div class="l" style="left:55px;top:1308px;width:1152px;height:1px;background:rgba(0,0,0,.15)"></div>
<div class="l" style="left:55px;top:1330px;width:1152px;height:1px;background:#000"></div>
<div class="l" style="left:55px;top:1331px;width:1152px;height:1px;background:rgba(0,0,0,.25)"></div>
<div class="l" style="left:55px;top:1329px;width:1152px;height:1px;background:rgba(0,0,0,.15)"></div>
<div class="l" style="left:55px;top:1364px;width:1152px;height:1px;background:#000"></div>
<div class="l" style="left:55px;top:1365px;width:1152px;height:1px;background:rgba(0,0,0,.25)"></div>
<div class="l" style="left:55px;top:1363px;width:1152px;height:1px;background:rgba(0,0,0,.15)"></div>
<div class="l" style="left:55px;top:1412px;width:1152px;height:1px;background:#000"></div>
<div class="l" style="left:55px;top:1413px;width:1152px;height:1px;background:rgba(0,0,0,.25)"></div>
<div class="l" style="left:55px;top:1411px;width:1152px;height:1px;background:rgba(0,0,0,.15)"></div>
<div class="l" style="left:55px;top:1444px;width:1152px;height:1px;background:#000"></div>
<div class="l" style="left:55px;top:1445px;width:1152px;height:1px;background:rgba(0,0,0,.25)"></div>
<div class="l" style="left:55px;top:1443px;width:1152px;height:1px;background:rgba(0,0,0,.15)"></div>
<div class="l" style="left:55px;top:1476px;width:1152px;height:1px;background:#000"></div>
<div class="l" style="left:55px;top:1477px;width:1152px;height:1px;background:rgba(0,0,0,.25)"></div>
<div class="l" style="left:55px;top:1475px;width:1152px;height:1px;background:rgba(0,0,0,.15)"></div>
<div class="l" style="left:55px;top:1508px;width:1152px;height:1px;background:#000"></div>
<div class="l" style="left:55px;top:1509px;width:1152px;height:1px;background:rgba(0,0,0,.25)"></div>
<div class="l" style="left:55px;top:1507px;width:1152px;height:1px;background:rgba(0,0,0,.15)"></div>
<div class="l" style="left:55px;top:1540px;width:1152px;height:1px;background:#000"></div>
<div class="l" style="left:55px;top:1541px;width:1152px;height:1px;background:rgba(0,0,0,.25)"></div>
<div class="l" style="left:55px;top:1539px;width:1152px;height:1px;background:rgba(0,0,0,.15)"></div>
<div class="l" style="left:55px;top:1572px;width:1152px;height:1px;background:#000"></div>
<div class="l" style="left:55px;top:1573px;width:1152px;height:1px;background:rgba(0,0,0,.25)"></div>
<div class="l" style="left:55px;top:1571px;width:1152px;height:1px;background:rgba(0,0,0,.15)"></div>
<div class="l" style="left:55px;top:1593px;width:1152px;height:1px;background:#000"></div>
<div class="l" style="left:55px;top:1594px;width:1152px;height:1px;background:rgba(0,0,0,.25)"></div>
<div class="l" style="left:55px;top:1592px;width:1152px;height:1px;background:rgba(0,0,0,.15)"></div>
<div class="l" style="left:55px;top:1614px;width:1152px;height:1px;background:#000"></div>
<div class="l" style="left:55px;top:1615px;width:1152px;height:1px;background:rgba(0,0,0,.25)"></div>
<div class="l" style="left:55px;top:1613px;width:1152px;height:1px;background:rgba(0,0,0,.15)"></div>
<div class="l" style="left:55px;top:1648px;width:1152px;height:1px;background:#000"></div>
<div class="l" style="left:55px;top:1649px;width:1152px;height:1px;background:rgba(0,0,0,.25)"></div>
<div class="l" style="left:55px;top:1647px;width:1152px;height:1px;background:rgba(0,0,0,.15)"></div>
<div class="l" style="left:55px;top:1679px;width:1152px;height:1px;background:#000"></div>
<div class="l" style="left:55px;top:1680px;width:1152px;height:1px;background:rgba(0,0,0,.25)"></div>
<div class="l" style="left:55px;top:1678px;width:1152px;height:1px;background:rgba(0,0,0,.15)"></div>
<div class="l" style="left:55px;top:1711px;width:1152px;height:1px;background:#000"></div>
<div class="l" style="left:55px;top:1712px;width:1152px;height:1px;background:rgba(0,0,0,.25)"></div>
<div class="l" style="left:55px;top:1710px;width:1152px;height:1px;background:rgba(0,0,0,.15)"></div>
</body></html>
